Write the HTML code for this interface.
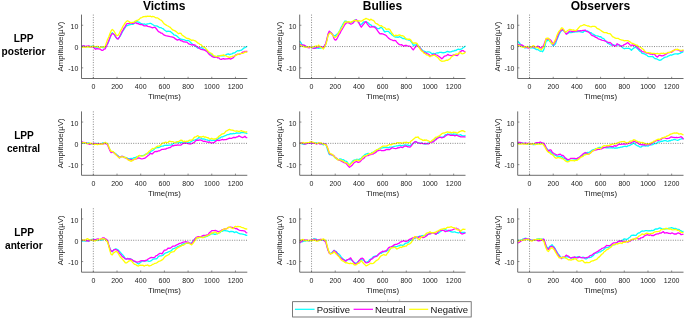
<!DOCTYPE html>
<html><head><meta charset="utf-8"><title>LPP ERP</title>
<style>
html,body{margin:0;padding:0;background:#fff;}
body{width:685px;height:319px;overflow:hidden;font-family:"Liberation Sans",sans-serif;}
svg{display:block;will-change:transform;}
text{font-family:"Liberation Sans",sans-serif;fill:#1a1a1a;}
.tk{font-size:7px;fill:#222;}
.lb{font-size:7.85px;fill:#222;}
.tt{font-size:12px;font-weight:bold;fill:#000;}
.rl{font-size:10.15px;font-weight:bold;fill:#000;}
.lg{font-size:9.5px;fill:#111;}
</style></head><body>
<svg width="685" height="319" viewBox="0 0 685 319">
<rect width="685" height="319" fill="#fff"/>
<polyline points="81.50,46.06 82.68,46.35 83.87,45.78 85.05,46.65 86.24,46.54 87.42,46.77 88.61,46.95 89.79,46.18 90.97,46.59 92.16,46.21 93.34,45.94 94.53,47.02 95.71,47.69 96.90,47.89 98.08,47.97 99.26,48.03 100.45,47.40 101.63,47.01 102.82,47.66 104.00,47.69 105.19,47.65 106.37,45.27 107.55,44.31 108.74,41.25 109.92,38.21 111.11,34.35 112.29,32.70 113.48,33.93 114.66,34.92 115.84,37.19 117.03,38.72 118.21,38.52 119.40,37.12 120.58,35.50 121.77,33.31 122.95,31.01 124.13,29.10 125.32,27.43 126.50,25.64 127.69,25.53 128.87,24.82 130.06,24.75 131.24,24.36 132.42,24.42 133.61,24.09 134.79,22.42 135.98,21.98 137.16,21.75 138.35,22.07 139.53,22.47 140.71,23.56 141.90,23.73 143.08,24.36 144.27,23.90 145.45,24.51 146.64,24.10 147.82,23.79 149.00,23.70 150.19,23.26 151.37,23.70 152.56,24.56 153.74,25.26 154.93,25.98 156.11,25.80 157.29,26.15 158.48,26.85 159.66,27.72 160.85,27.57 162.03,28.22 163.22,28.81 164.40,29.93 165.58,30.81 166.77,31.58 167.95,31.21 169.14,31.28 170.32,31.49 171.51,32.44 172.69,33.41 173.87,34.86 175.06,35.17 176.24,35.61 177.43,36.49 178.61,37.68 179.80,38.46 180.98,39.25 182.16,39.39 183.35,39.58 184.53,39.95 185.72,40.54 186.90,40.51 188.09,40.31 189.27,41.02 190.45,42.26 191.64,43.43 192.82,44.54 194.01,45.45 195.19,46.23 196.38,46.79 197.56,47.99 198.74,47.99 199.93,47.84 201.11,47.52 202.30,48.07 203.48,49.02 204.67,49.59 205.85,50.26 207.03,51.25 208.22,52.08 209.40,52.76 210.59,54.09 211.77,54.93 212.96,55.56 214.14,56.50 215.32,57.21 216.51,56.87 217.69,55.89 218.88,56.01 220.06,55.49 221.25,55.95 222.43,55.66 223.61,55.82 224.80,55.70 225.98,54.73 227.17,54.16 228.35,53.88 229.54,54.59 230.72,54.15 231.90,53.96 233.09,52.90 234.27,53.05 235.46,52.33 236.64,51.23 237.83,50.69 239.01,50.82 240.19,50.32 241.38,50.31 242.56,49.26 243.75,48.07 244.93,47.64 246.12,46.79 247.30,46.43" fill="none" stroke="#00ffff" stroke-width="1.3" stroke-linejoin="round" stroke-linecap="butt"/>
<polyline points="81.50,46.26 82.68,45.98 83.87,45.83 85.05,46.29 86.24,46.24 87.42,46.11 88.61,45.81 89.79,46.62 90.97,47.03 92.16,46.65 93.34,46.83 94.53,48.37 95.71,49.30 96.90,48.52 98.08,48.81 99.26,48.87 100.45,49.39 101.63,50.27 102.82,50.40 104.00,49.21 105.19,48.98 106.37,46.35 107.55,43.58 108.74,40.87 109.92,37.50 111.11,35.12 112.29,33.51 113.48,33.92 114.66,35.14 115.84,37.09 117.03,38.62 118.21,39.03 119.40,36.99 120.58,34.70 121.77,31.97 122.95,30.10 124.13,27.88 125.32,26.38 126.50,23.96 127.69,23.70 128.87,23.48 130.06,23.08 131.24,23.06 132.42,23.51 133.61,23.17 134.79,22.80 135.98,22.85 137.16,23.58 138.35,23.60 139.53,24.43 140.71,24.69 141.90,24.30 143.08,25.30 144.27,25.84 145.45,25.79 146.64,25.55 147.82,26.46 149.00,26.61 150.19,26.79 151.37,27.49 152.56,27.89 153.74,27.42 154.93,27.33 156.11,28.50 157.29,30.01 158.48,31.65 159.66,32.02 160.85,33.04 162.03,33.22 163.22,34.35 164.40,35.08 165.58,35.69 166.77,35.83 167.95,36.09 169.14,36.33 170.32,36.59 171.51,36.79 172.69,37.18 173.87,37.57 175.06,38.65 176.24,39.38 177.43,40.11 178.61,39.69 179.80,39.72 180.98,40.81 182.16,40.88 183.35,41.76 184.53,41.78 185.72,42.22 186.90,42.13 188.09,43.22 189.27,44.11 190.45,44.44 191.64,45.02 192.82,44.69 194.01,44.77 195.19,45.19 196.38,46.31 197.56,46.78 198.74,47.90 199.93,48.76 201.11,49.41 202.30,49.64 203.48,49.76 204.67,50.16 205.85,50.84 207.03,51.56 208.22,53.20 209.40,54.59 210.59,55.22 211.77,56.36 212.96,56.95 214.14,57.46 215.32,57.04 216.51,57.06 217.69,57.90 218.88,57.83 220.06,59.12 221.25,59.31 222.43,58.79 223.61,58.63 224.80,59.14 225.98,58.86 227.17,58.80 228.35,58.51 229.54,58.58 230.72,59.10 231.90,58.33 233.09,57.82 234.27,56.63 235.46,55.16 236.64,54.52 237.83,54.09 239.01,54.29 240.19,53.97 241.38,53.32 242.56,52.22 243.75,51.85 244.93,51.37 246.12,51.66 247.30,51.23" fill="none" stroke="#ff00ff" stroke-width="1.3" stroke-linejoin="round" stroke-linecap="butt"/>
<polyline points="81.50,47.63 82.68,47.20 83.87,46.80 85.05,47.44 86.24,47.11 87.42,46.54 88.61,46.88 89.79,47.35 90.97,46.40 92.16,46.59 93.34,46.18 94.53,46.31 95.71,46.79 96.90,46.44 98.08,46.43 99.26,47.55 100.45,47.85 101.63,46.85 102.82,46.86 104.00,47.26 105.19,46.26 106.37,42.85 107.55,39.44 108.74,36.96 109.92,33.67 111.11,30.90 112.29,29.55 113.48,30.48 114.66,32.25 115.84,34.35 117.03,35.72 118.21,35.17 119.40,33.24 120.58,30.57 121.77,28.77 122.95,26.29 124.13,24.67 125.32,22.65 126.50,21.42 127.69,20.70 128.87,21.46 130.06,22.50 131.24,22.52 132.42,22.28 133.61,22.42 134.79,21.35 135.98,20.75 137.16,20.50 138.35,19.92 139.53,18.90 140.71,17.77 141.90,17.57 143.08,16.73 144.27,16.67 145.45,16.30 146.64,16.50 147.82,16.19 149.00,16.38 150.19,16.09 151.37,16.77 152.56,16.50 153.74,16.57 154.93,17.30 156.11,17.78 157.29,17.79 158.48,18.45 159.66,19.50 160.85,20.04 162.03,20.92 163.22,22.58 164.40,23.99 165.58,24.63 166.77,25.47 167.95,25.99 169.14,26.73 170.32,27.42 171.51,28.81 172.69,29.94 173.87,30.41 175.06,30.92 176.24,31.63 177.43,32.72 178.61,33.73 179.80,33.15 180.98,33.44 182.16,35.23 183.35,35.86 184.53,36.72 185.72,37.62 186.90,38.44 188.09,38.36 189.27,38.89 190.45,39.58 191.64,40.58 192.82,39.99 194.01,40.42 195.19,40.79 196.38,41.62 197.56,42.82 198.74,43.36 199.93,44.40 201.11,44.68 202.30,46.13 203.48,47.22 204.67,47.24 205.85,48.66 207.03,49.95 208.22,51.31 209.40,52.48 210.59,53.01 211.77,53.52 212.96,54.97 214.14,55.85 215.32,56.14 216.51,56.70 217.69,56.23 218.88,56.17 220.06,55.94 221.25,55.35 222.43,55.45 223.61,54.88 224.80,55.62 225.98,55.67 227.17,56.54 228.35,56.83 229.54,57.56 230.72,56.92 231.90,56.55 233.09,56.06 234.27,55.90 235.46,55.54 236.64,54.83 237.83,54.40 239.01,54.07 240.19,53.73 241.38,53.39 242.56,53.33 243.75,53.12 244.93,51.96 246.12,52.19 247.30,52.01" fill="none" stroke="#ffff00" stroke-width="1.3" stroke-linejoin="round" stroke-linecap="butt"/>
<line x1="93.34" y1="14.60" x2="93.34" y2="78.50" stroke="#555" stroke-width="0.7" stroke-dasharray="1 1.5"/>
<line x1="81.50" y1="46.55" x2="247.30" y2="46.55" stroke="#555" stroke-width="0.7" stroke-dasharray="1 1.35"/>
<path d="M81.50 14.60V78.50H247.30" fill="none" stroke="#5c5c5c" stroke-width="0.9"/>
<line x1="93.34" y1="78.50" x2="93.34" y2="76.80" stroke="#5c5c5c" stroke-width="0.7"/>
<text x="93.34" y="89.00" class="tk" text-anchor="middle">0</text>
<line x1="117.03" y1="78.50" x2="117.03" y2="76.80" stroke="#5c5c5c" stroke-width="0.7"/>
<text x="117.03" y="89.00" class="tk" text-anchor="middle">200</text>
<line x1="140.71" y1="78.50" x2="140.71" y2="76.80" stroke="#5c5c5c" stroke-width="0.7"/>
<text x="140.71" y="89.00" class="tk" text-anchor="middle">400</text>
<line x1="164.40" y1="78.50" x2="164.40" y2="76.80" stroke="#5c5c5c" stroke-width="0.7"/>
<text x="164.40" y="89.00" class="tk" text-anchor="middle">600</text>
<line x1="188.09" y1="78.50" x2="188.09" y2="76.80" stroke="#5c5c5c" stroke-width="0.7"/>
<text x="188.09" y="89.00" class="tk" text-anchor="middle">800</text>
<line x1="211.77" y1="78.50" x2="211.77" y2="76.80" stroke="#5c5c5c" stroke-width="0.7"/>
<text x="211.77" y="89.00" class="tk" text-anchor="middle">1000</text>
<line x1="235.46" y1="78.50" x2="235.46" y2="76.80" stroke="#5c5c5c" stroke-width="0.7"/>
<text x="235.46" y="89.00" class="tk" text-anchor="middle">1200</text>
<line x1="81.50" y1="25.25" x2="83.20" y2="25.25" stroke="#5c5c5c" stroke-width="0.7"/>
<text x="78.30" y="28.85" class="tk" text-anchor="end">10</text>
<line x1="81.50" y1="46.55" x2="83.20" y2="46.55" stroke="#5c5c5c" stroke-width="0.7"/>
<text x="78.30" y="50.15" class="tk" text-anchor="end">0</text>
<line x1="81.50" y1="67.85" x2="83.20" y2="67.85" stroke="#5c5c5c" stroke-width="0.7"/>
<text x="78.30" y="71.45" class="tk" text-anchor="end">-10</text>
<text x="164.40" y="99.40" class="lb" text-anchor="middle">Time(ms)</text>
<text transform="translate(63.30 46.55) rotate(-90)" class="lb" text-anchor="middle">Amplitude(µV)</text>
<text x="164.20" y="10.35" class="tt" text-anchor="middle">Victims</text>
<polyline points="299.70,41.12 300.88,42.61 302.07,44.73 303.25,45.09 304.44,45.73 305.62,47.36 306.81,46.70 307.99,46.96 309.17,46.82 310.36,47.28 311.54,47.66 312.73,47.83 313.91,47.91 315.10,48.31 316.28,47.96 317.46,48.16 318.65,48.37 319.83,48.00 321.02,48.14 322.20,47.50 323.39,47.70 324.57,45.94 325.75,44.17 326.94,39.74 328.12,34.85 329.31,32.09 330.49,32.18 331.68,33.53 332.86,34.72 334.04,35.65 335.23,36.08 336.41,34.49 337.60,33.78 338.78,32.07 339.97,29.96 341.15,27.27 342.33,25.30 343.52,23.09 344.70,21.23 345.89,21.10 347.07,21.66 348.26,22.14 349.44,22.62 350.62,22.58 351.81,22.28 352.99,21.62 354.18,20.51 355.36,19.90 356.55,20.28 357.73,21.08 358.91,22.37 360.10,24.54 361.28,24.40 362.47,23.24 363.65,21.99 364.84,21.93 366.02,21.80 367.20,22.31 368.39,23.06 369.57,24.27 370.76,24.84 371.94,25.98 373.13,26.46 374.31,26.28 375.49,27.12 376.68,28.06 377.86,28.55 379.05,28.68 380.23,27.70 381.42,27.36 382.60,28.65 383.78,30.70 384.97,32.03 386.15,31.32 387.34,31.28 388.52,31.38 389.71,32.90 390.89,33.66 392.07,35.04 393.26,35.78 394.44,36.60 395.63,37.07 396.81,36.88 398.00,37.35 399.18,36.70 400.36,37.21 401.55,37.72 402.73,38.60 403.92,38.26 405.10,38.83 406.29,39.54 407.47,39.37 408.65,40.22 409.84,40.18 411.02,41.67 412.21,43.17 413.39,45.56 414.58,44.90 415.76,45.13 416.94,44.26 418.13,45.50 419.31,47.01 420.50,48.23 421.68,49.50 422.87,50.80 424.05,51.15 425.23,51.52 426.42,52.46 427.60,51.97 428.79,51.96 429.97,52.12 431.16,53.19 432.34,53.74 433.52,53.41 434.71,53.96 435.89,53.27 437.08,52.77 438.26,53.00 439.45,52.34 440.63,52.46 441.81,52.48 443.00,52.76 444.18,52.65 445.37,52.46 446.55,51.73 447.74,51.46 448.92,51.99 450.10,51.79 451.29,51.78 452.47,51.10 453.66,51.22 454.84,50.28 456.03,50.51 457.21,49.53 458.39,49.12 459.58,49.62 460.76,49.22 461.95,48.78 463.13,47.64 464.32,46.96 465.50,45.88" fill="none" stroke="#00ffff" stroke-width="1.3" stroke-linejoin="round" stroke-linecap="butt"/>
<polyline points="299.70,44.11 300.88,45.17 302.07,44.93 303.25,45.07 304.44,45.24 305.62,46.04 306.81,46.96 307.99,47.64 309.17,47.84 310.36,47.22 311.54,47.34 312.73,48.00 313.91,48.36 315.10,48.01 316.28,47.72 317.46,46.98 318.65,47.17 319.83,46.44 321.02,46.70 322.20,46.85 323.39,47.69 324.57,45.43 325.75,43.51 326.94,38.77 328.12,33.71 329.31,31.12 330.49,32.35 331.68,33.31 332.86,35.38 334.04,38.53 335.23,40.20 336.41,39.58 337.60,37.53 338.78,34.92 339.97,33.37 341.15,30.73 342.33,29.05 343.52,26.97 344.70,24.71 345.89,23.56 347.07,22.45 348.26,22.87 349.44,23.20 350.62,24.09 351.81,23.78 352.99,23.14 354.18,21.61 355.36,20.29 356.55,19.78 357.73,21.60 358.91,23.03 360.10,25.44 361.28,27.20 362.47,25.52 363.65,24.12 364.84,22.60 366.02,21.60 367.20,23.84 368.39,25.40 369.57,26.77 370.76,27.08 371.94,26.63 373.13,26.81 374.31,27.01 375.49,27.85 376.68,29.33 377.86,31.13 379.05,32.81 380.23,33.95 381.42,33.56 382.60,33.96 383.78,34.45 384.97,34.87 386.15,35.51 387.34,36.88 388.52,38.12 389.71,38.95 390.89,39.63 392.07,40.00 393.26,40.59 394.44,40.45 395.63,40.56 396.81,42.11 398.00,43.45 399.18,44.37 400.36,44.97 401.55,44.62 402.73,45.54 403.92,46.07 405.10,45.40 406.29,45.48 407.47,45.88 408.65,46.05 409.84,46.21 411.02,47.02 412.21,48.85 413.39,49.90 414.58,48.01 415.76,46.79 416.94,45.16 418.13,46.22 419.31,47.15 420.50,48.59 421.68,50.49 422.87,51.36 424.05,52.22 425.23,52.92 426.42,53.41 427.60,53.97 428.79,54.43 429.97,55.57 431.16,55.53 432.34,54.68 433.52,55.07 434.71,54.03 435.89,54.74 437.08,55.18 438.26,55.99 439.45,56.84 440.63,57.81 441.81,58.78 443.00,57.74 444.18,56.35 445.37,55.90 446.55,55.63 447.74,54.37 448.92,55.12 450.10,55.36 451.29,55.61 452.47,55.44 453.66,54.84 454.84,54.99 456.03,55.45 457.21,55.54 458.39,54.45 459.58,52.17 460.76,51.35 461.95,50.65 463.13,50.56 464.32,51.63 465.50,51.95" fill="none" stroke="#ff00ff" stroke-width="1.3" stroke-linejoin="round" stroke-linecap="butt"/>
<polyline points="299.70,44.85 300.88,45.70 302.07,46.12 303.25,46.39 304.44,47.15 305.62,47.19 306.81,47.09 307.99,46.99 309.17,46.65 310.36,47.17 311.54,47.73 312.73,47.00 313.91,46.63 315.10,46.28 316.28,45.94 317.46,46.54 318.65,45.06 319.83,46.57 321.02,47.21 322.20,48.04 323.39,49.03 324.57,47.13 325.75,44.77 326.94,40.69 328.12,35.33 329.31,33.53 330.49,32.94 331.68,33.93 332.86,35.38 334.04,36.94 335.23,37.46 336.41,36.39 337.60,34.69 338.78,32.70 339.97,30.69 341.15,28.78 342.33,26.80 343.52,24.57 344.70,22.13 345.89,21.89 347.07,22.10 348.26,21.69 349.44,21.93 350.62,22.36 351.81,21.61 352.99,21.02 354.18,20.19 355.36,20.76 356.55,20.71 357.73,21.23 358.91,20.66 360.10,21.22 361.28,21.16 362.47,20.72 363.65,19.58 364.84,19.14 366.02,18.43 367.20,18.88 368.39,19.30 369.57,20.34 370.76,19.20 371.94,19.80 373.13,20.36 374.31,21.29 375.49,23.25 376.68,23.67 377.86,24.42 379.05,25.19 380.23,25.94 381.42,25.66 382.60,26.75 383.78,27.25 384.97,27.77 386.15,29.32 387.34,29.08 388.52,28.98 389.71,29.30 390.89,31.38 392.07,33.20 393.26,34.58 394.44,36.18 395.63,35.24 396.81,35.28 398.00,35.54 399.18,34.82 400.36,35.23 401.55,35.81 402.73,35.76 403.92,36.29 405.10,37.80 406.29,38.99 407.47,39.34 408.65,39.18 409.84,39.26 411.02,40.34 412.21,42.13 413.39,43.32 414.58,42.93 415.76,43.00 416.94,43.28 418.13,45.73 419.31,47.91 420.50,49.59 421.68,51.00 422.87,51.61 424.05,53.27 425.23,53.76 426.42,54.82 427.60,54.91 428.79,55.85 429.97,56.84 431.16,55.85 432.34,55.76 433.52,55.23 434.71,55.26 435.89,56.29 437.08,56.96 438.26,57.93 439.45,59.66 440.63,60.59 441.81,61.28 443.00,61.17 444.18,61.15 445.37,60.70 446.55,60.16 447.74,60.25 448.92,59.42 450.10,58.79 451.29,56.99 452.47,56.26 453.66,55.38 454.84,54.75 456.03,53.99 457.21,54.27 458.39,53.68 459.58,52.50 460.76,52.77 461.95,53.81 463.13,53.58 464.32,53.17 465.50,52.01" fill="none" stroke="#ffff00" stroke-width="1.3" stroke-linejoin="round" stroke-linecap="butt"/>
<line x1="311.54" y1="14.60" x2="311.54" y2="78.50" stroke="#555" stroke-width="0.7" stroke-dasharray="1 1.5"/>
<line x1="299.70" y1="46.55" x2="465.50" y2="46.55" stroke="#555" stroke-width="0.7" stroke-dasharray="1 1.35"/>
<path d="M299.70 14.60V78.50H465.50" fill="none" stroke="#5c5c5c" stroke-width="0.9"/>
<line x1="311.54" y1="78.50" x2="311.54" y2="76.80" stroke="#5c5c5c" stroke-width="0.7"/>
<text x="311.54" y="89.00" class="tk" text-anchor="middle">0</text>
<line x1="335.23" y1="78.50" x2="335.23" y2="76.80" stroke="#5c5c5c" stroke-width="0.7"/>
<text x="335.23" y="89.00" class="tk" text-anchor="middle">200</text>
<line x1="358.91" y1="78.50" x2="358.91" y2="76.80" stroke="#5c5c5c" stroke-width="0.7"/>
<text x="358.91" y="89.00" class="tk" text-anchor="middle">400</text>
<line x1="382.60" y1="78.50" x2="382.60" y2="76.80" stroke="#5c5c5c" stroke-width="0.7"/>
<text x="382.60" y="89.00" class="tk" text-anchor="middle">600</text>
<line x1="406.29" y1="78.50" x2="406.29" y2="76.80" stroke="#5c5c5c" stroke-width="0.7"/>
<text x="406.29" y="89.00" class="tk" text-anchor="middle">800</text>
<line x1="429.97" y1="78.50" x2="429.97" y2="76.80" stroke="#5c5c5c" stroke-width="0.7"/>
<text x="429.97" y="89.00" class="tk" text-anchor="middle">1000</text>
<line x1="453.66" y1="78.50" x2="453.66" y2="76.80" stroke="#5c5c5c" stroke-width="0.7"/>
<text x="453.66" y="89.00" class="tk" text-anchor="middle">1200</text>
<line x1="299.70" y1="25.25" x2="301.40" y2="25.25" stroke="#5c5c5c" stroke-width="0.7"/>
<text x="296.50" y="28.85" class="tk" text-anchor="end">10</text>
<line x1="299.70" y1="46.55" x2="301.40" y2="46.55" stroke="#5c5c5c" stroke-width="0.7"/>
<text x="296.50" y="50.15" class="tk" text-anchor="end">0</text>
<line x1="299.70" y1="67.85" x2="301.40" y2="67.85" stroke="#5c5c5c" stroke-width="0.7"/>
<text x="296.50" y="71.45" class="tk" text-anchor="end">-10</text>
<text x="382.60" y="99.40" class="lb" text-anchor="middle">Time(ms)</text>
<text transform="translate(281.50 46.55) rotate(-90)" class="lb" text-anchor="middle">Amplitude(µV)</text>
<text x="382.40" y="10.35" class="tt" text-anchor="middle">Bullies</text>
<polyline points="517.70,41.19 518.88,42.50 520.07,43.77 521.25,45.35 522.44,46.05 523.62,47.04 524.81,47.98 525.99,47.75 527.17,47.61 528.36,47.23 529.54,46.78 530.73,47.97 531.91,47.58 533.10,48.00 534.28,48.36 535.46,48.91 536.65,49.66 537.83,49.40 539.02,50.53 540.20,51.25 541.39,50.96 542.57,51.70 543.75,49.84 544.94,46.33 546.12,40.89 547.31,40.75 548.49,39.59 549.68,41.39 550.86,42.54 552.04,44.12 553.23,45.94 554.41,45.05 555.60,43.59 556.78,39.88 557.97,37.25 559.15,34.28 560.33,32.16 561.52,30.71 562.70,30.19 563.89,30.97 565.07,31.57 566.26,33.67 567.44,33.52 568.62,32.94 569.81,32.46 570.99,32.55 572.18,32.33 573.36,32.03 574.55,32.14 575.73,31.63 576.91,31.84 578.10,31.59 579.28,31.41 580.47,31.79 581.65,32.05 582.84,32.43 584.02,31.25 585.20,30.97 586.39,31.09 587.57,31.01 588.76,31.72 589.94,32.70 591.13,32.59 592.31,33.88 593.49,34.32 594.68,35.15 595.86,35.67 597.05,35.78 598.23,36.10 599.42,36.74 600.60,36.53 601.78,37.90 602.97,38.27 604.15,39.06 605.34,40.84 606.52,41.41 607.71,43.33 608.89,43.76 610.07,44.56 611.26,45.24 612.44,44.38 613.63,44.80 614.81,45.35 616.00,45.31 617.18,45.18 618.36,44.64 619.55,45.02 620.73,45.70 621.92,47.11 623.10,48.06 624.29,48.74 625.47,48.32 626.65,48.29 627.84,48.41 629.02,48.33 630.21,49.06 631.39,50.26 632.58,48.96 633.76,48.16 634.94,47.11 636.13,47.75 637.31,48.44 638.50,49.71 639.68,51.12 640.87,51.71 642.05,53.44 643.23,53.56 644.42,53.88 645.60,54.74 646.79,55.12 647.97,56.29 649.16,56.58 650.34,56.72 651.52,56.61 652.71,56.49 653.89,57.77 655.08,58.65 656.26,58.74 657.45,59.25 658.63,59.97 659.81,60.39 661.00,59.96 662.18,58.96 663.37,58.23 664.55,57.40 665.74,57.03 666.92,56.92 668.10,56.03 669.29,55.59 670.47,54.97 671.66,55.24 672.84,54.52 674.03,54.09 675.21,53.97 676.39,53.94 677.58,54.00 678.76,53.75 679.95,53.34 681.13,52.61 682.32,52.30 683.50,51.42" fill="none" stroke="#00ffff" stroke-width="1.3" stroke-linejoin="round" stroke-linecap="butt"/>
<polyline points="517.70,44.49 518.88,44.59 520.07,45.18 521.25,44.89 522.44,45.17 523.62,46.05 524.81,47.08 525.99,47.37 527.17,47.41 528.36,48.07 529.54,47.59 530.73,46.58 531.91,46.74 533.10,46.56 534.28,47.13 535.46,47.59 536.65,47.10 537.83,46.05 539.02,46.92 540.20,47.67 541.39,48.11 542.57,46.99 543.75,45.19 544.94,41.65 546.12,38.85 547.31,39.19 548.49,38.96 549.68,39.43 550.86,40.24 552.04,42.24 553.23,44.83 554.41,42.80 555.60,41.22 556.78,38.69 557.97,35.27 559.15,32.65 560.33,30.88 561.52,30.09 562.70,29.56 563.89,30.60 565.07,32.46 566.26,34.21 567.44,33.35 568.62,32.01 569.81,31.06 570.99,31.14 572.18,31.80 573.36,31.40 574.55,31.10 575.73,31.42 576.91,30.75 578.10,30.80 579.28,30.84 580.47,30.55 581.65,30.89 582.84,30.44 584.02,30.29 585.20,30.04 586.39,31.32 587.57,31.71 588.76,32.27 589.94,33.15 591.13,34.73 592.31,35.69 593.49,35.90 594.68,36.61 595.86,37.36 597.05,37.77 598.23,38.82 599.42,39.23 600.60,39.54 601.78,40.11 602.97,40.46 604.15,40.53 605.34,41.15 606.52,41.80 607.71,42.09 608.89,42.92 610.07,42.43 611.26,43.41 612.44,45.03 613.63,45.36 614.81,46.23 616.00,45.61 617.18,43.71 618.36,44.45 619.55,45.35 620.73,46.33 621.92,45.84 623.10,45.61 624.29,44.60 625.47,44.23 626.65,43.24 627.84,42.69 629.02,43.84 630.21,45.13 631.39,45.31 632.58,44.91 633.76,45.58 634.94,44.99 636.13,45.96 637.31,47.57 638.50,48.06 639.68,49.63 640.87,50.14 642.05,51.55 643.23,51.93 644.42,51.72 645.60,52.61 646.79,53.19 647.97,52.87 649.16,53.72 650.34,54.01 651.52,54.04 652.71,54.37 653.89,53.98 655.08,54.89 656.26,56.37 657.45,56.98 658.63,55.79 659.81,55.18 661.00,55.75 662.18,55.91 663.37,55.68 664.55,54.82 665.74,54.37 666.92,53.48 668.10,52.77 669.29,52.60 670.47,52.22 671.66,52.33 672.84,51.25 674.03,50.17 675.21,49.51 676.39,49.66 677.58,49.80 678.76,50.25 679.95,51.00 681.13,51.10 682.32,50.85 683.50,50.25" fill="none" stroke="#ff00ff" stroke-width="1.3" stroke-linejoin="round" stroke-linecap="butt"/>
<polyline points="517.70,45.04 518.88,45.49 520.07,45.99 521.25,46.74 522.44,47.11 523.62,47.40 524.81,46.69 525.99,46.76 527.17,46.36 528.36,46.99 529.54,47.72 530.73,47.16 531.91,46.66 533.10,45.72 534.28,46.22 535.46,47.38 536.65,47.48 537.83,47.44 539.02,48.66 540.20,49.22 541.39,49.79 542.57,47.99 543.75,47.59 544.94,43.20 546.12,38.41 547.31,38.25 548.49,38.19 549.68,40.39 550.86,42.40 552.04,43.95 553.23,43.60 554.41,41.64 555.60,39.38 556.78,35.84 557.97,33.18 559.15,31.09 560.33,29.82 561.52,27.92 562.70,28.10 563.89,29.76 565.07,32.01 566.26,31.87 567.44,30.83 568.62,30.05 569.81,29.32 570.99,29.52 572.18,30.16 573.36,29.84 574.55,30.49 575.73,30.60 576.91,29.92 578.10,28.52 579.28,27.15 580.47,25.81 581.65,25.78 582.84,25.23 584.02,24.68 585.20,25.07 586.39,25.49 587.57,26.01 588.76,25.96 589.94,26.64 591.13,26.84 592.31,26.29 593.49,26.40 594.68,26.32 595.86,27.01 597.05,28.41 598.23,28.90 599.42,29.43 600.60,30.25 601.78,31.10 602.97,31.93 604.15,32.61 605.34,32.63 606.52,32.58 607.71,33.33 608.89,33.56 610.07,33.67 611.26,34.96 612.44,36.54 613.63,37.05 614.81,37.97 616.00,38.47 617.18,38.31 618.36,38.46 619.55,39.32 620.73,39.69 621.92,40.03 623.10,40.21 624.29,40.88 625.47,40.69 626.65,40.65 627.84,40.62 629.02,41.29 630.21,42.09 631.39,43.08 632.58,43.29 633.76,43.94 634.94,44.44 636.13,45.16 637.31,45.26 638.50,46.61 639.68,46.99 640.87,47.48 642.05,48.64 643.23,49.26 644.42,50.72 645.60,52.01 646.79,52.61 647.97,52.59 649.16,52.93 650.34,52.81 651.52,53.30 652.71,53.44 653.89,53.39 655.08,53.69 656.26,53.59 657.45,53.45 658.63,53.86 659.81,53.92 661.00,53.19 662.18,53.52 663.37,53.15 664.55,53.54 665.74,53.48 666.92,53.01 668.10,52.40 669.29,52.29 670.47,52.28 671.66,51.38 672.84,50.67 674.03,50.50 675.21,49.53 676.39,49.45 677.58,49.19 678.76,49.88 679.95,50.22 681.13,50.32 682.32,50.07 683.50,49.77" fill="none" stroke="#ffff00" stroke-width="1.3" stroke-linejoin="round" stroke-linecap="butt"/>
<line x1="529.54" y1="14.60" x2="529.54" y2="78.50" stroke="#555" stroke-width="0.7" stroke-dasharray="1 1.5"/>
<line x1="517.70" y1="46.55" x2="683.50" y2="46.55" stroke="#555" stroke-width="0.7" stroke-dasharray="1 1.35"/>
<path d="M517.70 14.60V78.50H683.50" fill="none" stroke="#5c5c5c" stroke-width="0.9"/>
<line x1="529.54" y1="78.50" x2="529.54" y2="76.80" stroke="#5c5c5c" stroke-width="0.7"/>
<text x="529.54" y="89.00" class="tk" text-anchor="middle">0</text>
<line x1="553.23" y1="78.50" x2="553.23" y2="76.80" stroke="#5c5c5c" stroke-width="0.7"/>
<text x="553.23" y="89.00" class="tk" text-anchor="middle">200</text>
<line x1="576.91" y1="78.50" x2="576.91" y2="76.80" stroke="#5c5c5c" stroke-width="0.7"/>
<text x="576.91" y="89.00" class="tk" text-anchor="middle">400</text>
<line x1="600.60" y1="78.50" x2="600.60" y2="76.80" stroke="#5c5c5c" stroke-width="0.7"/>
<text x="600.60" y="89.00" class="tk" text-anchor="middle">600</text>
<line x1="624.29" y1="78.50" x2="624.29" y2="76.80" stroke="#5c5c5c" stroke-width="0.7"/>
<text x="624.29" y="89.00" class="tk" text-anchor="middle">800</text>
<line x1="647.97" y1="78.50" x2="647.97" y2="76.80" stroke="#5c5c5c" stroke-width="0.7"/>
<text x="647.97" y="89.00" class="tk" text-anchor="middle">1000</text>
<line x1="671.66" y1="78.50" x2="671.66" y2="76.80" stroke="#5c5c5c" stroke-width="0.7"/>
<text x="671.66" y="89.00" class="tk" text-anchor="middle">1200</text>
<line x1="517.70" y1="25.25" x2="519.40" y2="25.25" stroke="#5c5c5c" stroke-width="0.7"/>
<text x="514.50" y="28.85" class="tk" text-anchor="end">10</text>
<line x1="517.70" y1="46.55" x2="519.40" y2="46.55" stroke="#5c5c5c" stroke-width="0.7"/>
<text x="514.50" y="50.15" class="tk" text-anchor="end">0</text>
<line x1="517.70" y1="67.85" x2="519.40" y2="67.85" stroke="#5c5c5c" stroke-width="0.7"/>
<text x="514.50" y="71.45" class="tk" text-anchor="end">-10</text>
<text x="600.60" y="99.40" class="lb" text-anchor="middle">Time(ms)</text>
<text transform="translate(499.50 46.55) rotate(-90)" class="lb" text-anchor="middle">Amplitude(µV)</text>
<text x="600.40" y="10.35" class="tt" text-anchor="middle">Observers</text>
<text x="23.6" y="41.7" class="rl" text-anchor="middle">LPP</text>
<text x="23.5" y="54.9" class="rl" text-anchor="middle">posterior</text>
<polyline points="81.50,142.75 82.68,142.46 83.87,143.15 85.05,143.03 86.24,142.93 87.42,143.33 88.61,142.92 89.79,143.57 90.97,143.91 92.16,143.88 93.34,143.71 94.53,143.76 95.71,143.27 96.90,143.93 98.08,143.23 99.26,143.60 100.45,143.90 101.63,143.55 102.82,142.92 104.00,143.31 105.19,142.53 106.37,143.55 107.55,143.88 108.74,147.14 109.92,149.82 111.11,151.54 112.29,151.71 113.48,152.22 114.66,152.99 115.84,153.80 117.03,154.90 118.21,155.95 119.40,157.45 120.58,156.63 121.77,156.46 122.95,156.67 124.13,157.08 125.32,157.57 126.50,157.54 127.69,158.52 128.87,158.62 130.06,158.62 131.24,158.37 132.42,158.77 133.61,157.78 134.79,157.58 135.98,157.43 137.16,156.62 138.35,156.28 139.53,155.56 140.71,155.54 141.90,155.53 143.08,155.48 144.27,155.28 145.45,154.24 146.64,154.07 147.82,153.55 149.00,152.67 150.19,152.40 151.37,150.91 152.56,150.54 153.74,149.78 154.93,148.42 156.11,147.98 157.29,147.43 158.48,147.58 159.66,147.17 160.85,146.30 162.03,146.03 163.22,146.20 164.40,145.28 165.58,145.32 166.77,145.13 167.95,145.37 169.14,145.16 170.32,145.09 171.51,144.96 172.69,143.96 173.87,143.28 175.06,142.74 176.24,142.17 177.43,142.79 178.61,142.94 179.80,142.27 180.98,142.58 182.16,142.02 183.35,142.26 184.53,142.82 185.72,142.21 186.90,141.82 188.09,142.34 189.27,142.43 190.45,142.15 191.64,141.08 192.82,140.64 194.01,140.18 195.19,139.81 196.38,139.30 197.56,138.85 198.74,137.56 199.93,137.94 201.11,138.08 202.30,139.03 203.48,138.95 204.67,139.10 205.85,139.53 207.03,139.82 208.22,140.41 209.40,140.29 210.59,139.89 211.77,140.57 212.96,140.35 214.14,140.21 215.32,140.73 216.51,139.36 217.69,139.27 218.88,137.99 220.06,138.07 221.25,136.94 222.43,136.80 223.61,136.36 224.80,135.78 225.98,135.41 227.17,134.71 228.35,134.56 229.54,134.25 230.72,133.57 231.90,133.84 233.09,133.52 234.27,133.63 235.46,133.42 236.64,132.90 237.83,133.14 239.01,133.03 240.19,133.17 241.38,132.42 242.56,132.55 243.75,132.58 244.93,132.94 246.12,133.00 247.30,133.84" fill="none" stroke="#00ffff" stroke-width="1.3" stroke-linejoin="round" stroke-linecap="butt"/>
<polyline points="81.50,141.66 82.68,142.16 83.87,142.51 85.05,142.55 86.24,142.85 87.42,143.66 88.61,143.93 89.79,144.32 90.97,143.64 92.16,143.64 93.34,143.44 94.53,143.43 95.71,144.12 96.90,143.89 98.08,143.73 99.26,143.58 100.45,144.15 101.63,143.71 102.82,144.15 104.00,143.36 105.19,143.48 106.37,143.82 107.55,144.71 108.74,147.83 109.92,150.70 111.11,152.54 112.29,151.97 113.48,152.30 114.66,153.60 115.84,154.53 117.03,155.51 118.21,156.22 119.40,157.89 120.58,157.07 121.77,156.34 122.95,156.39 124.13,157.54 125.32,157.67 126.50,158.33 127.69,158.78 128.87,160.01 130.06,159.84 131.24,159.50 132.42,160.51 133.61,159.50 134.79,158.99 135.98,158.94 137.16,158.53 138.35,157.81 139.53,158.17 140.71,158.58 141.90,158.79 143.08,158.70 144.27,158.26 145.45,157.87 146.64,156.86 147.82,155.76 149.00,154.94 150.19,153.48 151.37,153.75 152.56,153.76 153.74,152.44 154.93,151.56 156.11,151.51 157.29,151.48 158.48,150.95 159.66,150.77 160.85,150.06 162.03,149.36 163.22,149.36 164.40,149.14 165.58,149.08 166.77,148.37 167.95,148.15 169.14,147.67 170.32,147.54 171.51,146.58 172.69,145.53 173.87,145.75 175.06,145.08 176.24,145.32 177.43,144.80 178.61,145.14 179.80,145.06 180.98,145.13 182.16,143.95 183.35,143.41 184.53,143.35 185.72,142.99 186.90,143.46 188.09,143.53 189.27,143.77 190.45,143.99 191.64,143.71 192.82,143.17 194.01,142.65 195.19,141.31 196.38,140.33 197.56,140.20 198.74,140.24 199.93,139.90 201.11,140.15 202.30,140.76 203.48,141.49 204.67,141.17 205.85,141.68 207.03,141.97 208.22,142.34 209.40,141.89 210.59,142.67 211.77,143.11 212.96,142.73 214.14,142.56 215.32,141.43 216.51,140.63 217.69,140.11 218.88,140.67 220.06,140.13 221.25,139.82 222.43,139.41 223.61,139.84 224.80,139.68 225.98,139.57 227.17,139.10 228.35,138.69 229.54,138.12 230.72,138.33 231.90,138.32 233.09,137.50 234.27,137.43 235.46,137.63 236.64,136.96 237.83,136.85 239.01,135.83 240.19,136.52 241.38,137.21 242.56,137.59 243.75,137.22 244.93,136.28 246.12,137.60 247.30,137.67" fill="none" stroke="#ff00ff" stroke-width="1.3" stroke-linejoin="round" stroke-linecap="butt"/>
<polyline points="81.50,143.18 82.68,142.68 83.87,142.65 85.05,142.56 86.24,143.57 87.42,143.62 88.61,143.50 89.79,143.23 90.97,143.38 92.16,143.92 93.34,144.22 94.53,144.69 95.71,144.14 96.90,144.49 98.08,144.51 99.26,144.05 100.45,143.92 101.63,144.00 102.82,144.10 104.00,143.00 105.19,142.39 106.37,143.22 107.55,143.71 108.74,146.59 109.92,149.38 111.11,151.38 112.29,151.46 113.48,151.82 114.66,153.51 115.84,154.59 117.03,155.88 118.21,157.07 119.40,157.90 120.58,156.97 121.77,156.93 122.95,156.88 124.13,157.46 125.32,157.31 126.50,158.35 127.69,159.70 128.87,160.00 130.06,160.91 131.24,161.30 132.42,160.29 133.61,159.98 134.79,158.95 135.98,158.76 137.16,157.27 138.35,155.86 139.53,155.36 140.71,155.91 141.90,156.04 143.08,155.91 144.27,155.56 145.45,154.77 146.64,153.66 147.82,152.91 149.00,151.37 150.19,150.51 151.37,149.57 152.56,148.50 153.74,148.70 154.93,147.95 156.11,146.98 157.29,146.24 158.48,146.14 159.66,145.78 160.85,144.86 162.03,143.44 163.22,142.87 164.40,142.90 165.58,142.12 166.77,142.60 167.95,142.44 169.14,141.25 170.32,141.45 171.51,141.68 172.69,141.69 173.87,142.11 175.06,142.40 176.24,142.17 177.43,141.65 178.61,141.63 179.80,140.83 180.98,140.08 182.16,140.31 183.35,141.78 184.53,141.04 185.72,141.54 186.90,141.21 188.09,141.30 189.27,140.25 190.45,140.09 191.64,140.08 192.82,139.33 194.01,137.60 195.19,136.84 196.38,136.60 197.56,135.70 198.74,136.27 199.93,136.65 201.11,137.04 202.30,136.63 203.48,136.34 204.67,137.24 205.85,136.92 207.03,137.76 208.22,137.73 209.40,138.82 210.59,138.79 211.77,138.27 212.96,139.21 214.14,138.93 215.32,139.02 216.51,138.39 217.69,137.76 218.88,136.27 220.06,135.62 221.25,134.46 222.43,133.89 223.61,133.64 224.80,132.63 225.98,131.13 227.17,130.65 228.35,129.97 229.54,129.46 230.72,130.01 231.90,130.13 233.09,130.24 234.27,130.86 235.46,131.14 236.64,130.92 237.83,131.22 239.01,131.64 240.19,131.02 241.38,130.53 242.56,131.32 243.75,131.38 244.93,132.07 246.12,132.01 247.30,131.93" fill="none" stroke="#ffff00" stroke-width="1.3" stroke-linejoin="round" stroke-linecap="butt"/>
<line x1="93.34" y1="111.40" x2="93.34" y2="175.30" stroke="#555" stroke-width="0.7" stroke-dasharray="1 1.5"/>
<line x1="81.50" y1="143.35" x2="247.30" y2="143.35" stroke="#555" stroke-width="0.7" stroke-dasharray="1 1.35"/>
<path d="M81.50 111.40V175.30H247.30" fill="none" stroke="#5c5c5c" stroke-width="0.9"/>
<line x1="93.34" y1="175.30" x2="93.34" y2="173.60" stroke="#5c5c5c" stroke-width="0.7"/>
<text x="93.34" y="185.80" class="tk" text-anchor="middle">0</text>
<line x1="117.03" y1="175.30" x2="117.03" y2="173.60" stroke="#5c5c5c" stroke-width="0.7"/>
<text x="117.03" y="185.80" class="tk" text-anchor="middle">200</text>
<line x1="140.71" y1="175.30" x2="140.71" y2="173.60" stroke="#5c5c5c" stroke-width="0.7"/>
<text x="140.71" y="185.80" class="tk" text-anchor="middle">400</text>
<line x1="164.40" y1="175.30" x2="164.40" y2="173.60" stroke="#5c5c5c" stroke-width="0.7"/>
<text x="164.40" y="185.80" class="tk" text-anchor="middle">600</text>
<line x1="188.09" y1="175.30" x2="188.09" y2="173.60" stroke="#5c5c5c" stroke-width="0.7"/>
<text x="188.09" y="185.80" class="tk" text-anchor="middle">800</text>
<line x1="211.77" y1="175.30" x2="211.77" y2="173.60" stroke="#5c5c5c" stroke-width="0.7"/>
<text x="211.77" y="185.80" class="tk" text-anchor="middle">1000</text>
<line x1="235.46" y1="175.30" x2="235.46" y2="173.60" stroke="#5c5c5c" stroke-width="0.7"/>
<text x="235.46" y="185.80" class="tk" text-anchor="middle">1200</text>
<line x1="81.50" y1="122.05" x2="83.20" y2="122.05" stroke="#5c5c5c" stroke-width="0.7"/>
<text x="78.30" y="125.65" class="tk" text-anchor="end">10</text>
<line x1="81.50" y1="143.35" x2="83.20" y2="143.35" stroke="#5c5c5c" stroke-width="0.7"/>
<text x="78.30" y="146.95" class="tk" text-anchor="end">0</text>
<line x1="81.50" y1="164.65" x2="83.20" y2="164.65" stroke="#5c5c5c" stroke-width="0.7"/>
<text x="78.30" y="168.25" class="tk" text-anchor="end">-10</text>
<text x="164.40" y="196.20" class="lb" text-anchor="middle">Time(ms)</text>
<text transform="translate(63.30 143.35) rotate(-90)" class="lb" text-anchor="middle">Amplitude(µV)</text>
<polyline points="299.70,142.98 300.88,143.22 302.07,143.87 303.25,144.04 304.44,144.38 305.62,143.25 306.81,143.69 307.99,143.12 309.17,143.00 310.36,143.31 311.54,142.83 312.73,142.95 313.91,142.91 315.10,142.83 316.28,142.94 317.46,143.35 318.65,143.44 319.83,143.35 321.02,143.41 322.20,144.19 323.39,144.87 324.57,144.05 325.75,143.96 326.94,147.54 328.12,151.61 329.31,154.61 330.49,154.57 331.68,154.49 332.86,155.41 334.04,156.54 335.23,157.67 336.41,158.80 337.60,159.33 338.78,159.53 339.97,158.90 341.15,159.10 342.33,160.09 343.52,159.71 344.70,160.82 345.89,161.12 347.07,161.73 348.26,163.56 349.44,165.03 350.62,163.36 351.81,162.09 352.99,160.80 354.18,160.00 355.36,160.27 356.55,159.33 357.73,159.29 358.91,159.68 360.10,158.65 361.28,158.30 362.47,156.76 363.65,155.88 364.84,154.66 366.02,154.04 367.20,153.72 368.39,153.30 369.57,153.57 370.76,153.58 371.94,152.36 373.13,152.17 374.31,151.77 375.49,150.71 376.68,150.01 377.86,149.64 379.05,148.66 380.23,148.15 381.42,147.98 382.60,147.84 383.78,147.51 384.97,147.54 386.15,147.36 387.34,147.46 388.52,147.84 389.71,147.10 390.89,147.18 392.07,147.24 393.26,146.69 394.44,146.28 395.63,146.18 396.81,145.97 398.00,145.89 399.18,145.42 400.36,145.23 401.55,145.89 402.73,145.42 403.92,145.21 405.10,144.76 406.29,145.34 407.47,144.82 408.65,145.42 409.84,145.60 411.02,144.88 412.21,143.91 413.39,143.49 414.58,142.29 415.76,141.49 416.94,142.26 418.13,143.01 419.31,143.16 420.50,143.46 421.68,142.97 422.87,143.47 424.05,143.77 425.23,144.02 426.42,143.88 427.60,143.20 428.79,142.96 429.97,141.95 431.16,141.74 432.34,141.44 433.52,141.18 434.71,140.24 435.89,139.09 437.08,138.09 438.26,137.27 439.45,136.98 440.63,137.18 441.81,137.21 443.00,136.84 444.18,136.26 445.37,134.60 446.55,134.77 447.74,133.83 448.92,134.49 450.10,134.14 451.29,133.96 452.47,134.59 453.66,133.85 454.84,134.03 456.03,134.08 457.21,134.90 458.39,135.14 459.58,134.95 460.76,134.69 461.95,135.66 463.13,136.02 464.32,135.98 465.50,135.45" fill="none" stroke="#00ffff" stroke-width="1.3" stroke-linejoin="round" stroke-linecap="butt"/>
<polyline points="299.70,143.52 300.88,142.78 302.07,142.59 303.25,143.55 304.44,143.86 305.62,144.14 306.81,143.23 307.99,143.02 309.17,143.28 310.36,143.13 311.54,142.63 312.73,143.37 313.91,143.24 315.10,143.15 316.28,144.03 317.46,143.70 318.65,143.21 319.83,144.04 321.02,143.91 322.20,143.70 323.39,143.43 324.57,144.18 325.75,143.96 326.94,146.26 328.12,149.49 329.31,153.41 330.49,154.27 331.68,154.80 332.86,155.16 334.04,155.78 335.23,157.51 336.41,158.01 337.60,159.15 338.78,160.02 339.97,160.41 341.15,161.04 342.33,161.54 343.52,162.45 344.70,162.79 345.89,163.02 347.07,164.62 348.26,166.03 349.44,167.30 350.62,166.52 351.81,165.58 352.99,164.10 354.18,162.66 355.36,162.02 356.55,161.36 357.73,162.29 358.91,162.24 360.10,161.64 361.28,160.25 362.47,158.80 363.65,158.53 364.84,157.06 366.02,156.04 367.20,155.49 368.39,155.50 369.57,154.77 370.76,154.72 371.94,153.84 373.13,154.11 374.31,153.14 375.49,152.68 376.68,151.54 377.86,150.60 379.05,150.49 380.23,149.98 381.42,150.68 382.60,150.54 383.78,150.50 384.97,150.36 386.15,149.50 387.34,149.33 388.52,149.55 389.71,149.53 390.89,148.62 392.07,147.68 393.26,148.16 394.44,148.47 395.63,148.57 396.81,148.34 398.00,147.62 399.18,147.79 400.36,146.98 401.55,147.42 402.73,147.48 403.92,146.45 405.10,145.89 406.29,146.21 407.47,146.76 408.65,146.84 409.84,147.18 411.02,146.24 412.21,144.52 413.39,142.91 414.58,141.94 415.76,141.56 416.94,142.31 418.13,142.77 419.31,143.02 420.50,143.52 421.68,143.10 422.87,143.60 424.05,143.62 425.23,143.29 426.42,143.73 427.60,143.92 428.79,143.91 429.97,142.74 431.16,141.98 432.34,142.02 433.52,141.83 434.71,140.11 435.89,139.80 437.08,138.49 438.26,137.95 439.45,137.21 440.63,137.49 441.81,137.77 443.00,137.49 444.18,137.10 445.37,136.09 446.55,135.24 447.74,134.67 448.92,134.63 450.10,135.30 451.29,135.16 452.47,135.32 453.66,135.22 454.84,135.86 456.03,135.29 457.21,135.33 458.39,136.11 459.58,136.37 460.76,136.91 461.95,136.84 463.13,136.94 464.32,136.96 465.50,137.00" fill="none" stroke="#ff00ff" stroke-width="1.3" stroke-linejoin="round" stroke-linecap="butt"/>
<polyline points="299.70,142.88 300.88,143.31 302.07,143.03 303.25,142.44 304.44,143.21 305.62,142.91 306.81,142.73 307.99,142.52 309.17,142.32 310.36,141.92 311.54,141.58 312.73,142.23 313.91,142.69 315.10,143.00 316.28,143.58 317.46,143.36 318.65,142.97 319.83,142.92 321.02,142.84 322.20,143.69 323.39,143.80 324.57,144.41 325.75,144.76 326.94,146.30 328.12,149.27 329.31,152.79 330.49,153.73 331.68,154.02 332.86,154.83 334.04,156.32 335.23,157.81 336.41,158.04 337.60,159.84 338.78,159.79 339.97,159.83 341.15,160.11 342.33,160.90 343.52,161.16 344.70,162.32 345.89,162.60 347.07,162.89 348.26,164.12 349.44,165.52 350.62,164.12 351.81,162.95 352.99,161.94 354.18,161.00 355.36,160.26 356.55,160.38 357.73,159.97 358.91,160.80 360.10,160.10 361.28,159.08 362.47,157.43 363.65,156.20 364.84,155.80 366.02,155.77 367.20,155.02 368.39,154.26 369.57,153.71 370.76,153.91 371.94,153.11 373.13,152.71 374.31,151.44 375.49,150.85 376.68,149.84 377.86,149.29 379.05,148.73 380.23,147.97 381.42,147.01 382.60,146.20 383.78,146.03 384.97,146.21 386.15,146.03 387.34,145.69 388.52,145.05 389.71,144.42 390.89,144.80 392.07,144.29 393.26,143.59 394.44,143.71 395.63,143.69 396.81,142.85 398.00,142.51 399.18,142.87 400.36,142.69 401.55,143.06 402.73,143.08 403.92,142.35 405.10,142.58 406.29,142.17 407.47,142.52 408.65,142.70 409.84,142.72 411.02,141.08 412.21,140.25 413.39,139.16 414.58,138.15 415.76,137.18 416.94,137.33 418.13,136.87 419.31,138.53 420.50,139.16 421.68,139.44 422.87,140.37 424.05,140.01 425.23,140.25 426.42,139.96 427.60,140.58 428.79,140.91 429.97,141.94 431.16,141.30 432.34,140.18 433.52,139.73 434.71,138.21 435.89,137.17 437.08,137.20 438.26,136.13 439.45,135.76 440.63,134.85 441.81,133.79 443.00,133.16 444.18,133.02 445.37,132.66 446.55,132.13 447.74,131.94 448.92,132.35 450.10,132.10 451.29,132.55 452.47,132.50 453.66,132.17 454.84,132.28 456.03,132.49 457.21,133.22 458.39,132.38 459.58,131.63 460.76,131.18 461.95,130.61 463.13,130.73 464.32,131.52 465.50,131.65" fill="none" stroke="#ffff00" stroke-width="1.3" stroke-linejoin="round" stroke-linecap="butt"/>
<line x1="311.54" y1="111.40" x2="311.54" y2="175.30" stroke="#555" stroke-width="0.7" stroke-dasharray="1 1.5"/>
<line x1="299.70" y1="143.35" x2="465.50" y2="143.35" stroke="#555" stroke-width="0.7" stroke-dasharray="1 1.35"/>
<path d="M299.70 111.40V175.30H465.50" fill="none" stroke="#5c5c5c" stroke-width="0.9"/>
<line x1="311.54" y1="175.30" x2="311.54" y2="173.60" stroke="#5c5c5c" stroke-width="0.7"/>
<text x="311.54" y="185.80" class="tk" text-anchor="middle">0</text>
<line x1="335.23" y1="175.30" x2="335.23" y2="173.60" stroke="#5c5c5c" stroke-width="0.7"/>
<text x="335.23" y="185.80" class="tk" text-anchor="middle">200</text>
<line x1="358.91" y1="175.30" x2="358.91" y2="173.60" stroke="#5c5c5c" stroke-width="0.7"/>
<text x="358.91" y="185.80" class="tk" text-anchor="middle">400</text>
<line x1="382.60" y1="175.30" x2="382.60" y2="173.60" stroke="#5c5c5c" stroke-width="0.7"/>
<text x="382.60" y="185.80" class="tk" text-anchor="middle">600</text>
<line x1="406.29" y1="175.30" x2="406.29" y2="173.60" stroke="#5c5c5c" stroke-width="0.7"/>
<text x="406.29" y="185.80" class="tk" text-anchor="middle">800</text>
<line x1="429.97" y1="175.30" x2="429.97" y2="173.60" stroke="#5c5c5c" stroke-width="0.7"/>
<text x="429.97" y="185.80" class="tk" text-anchor="middle">1000</text>
<line x1="453.66" y1="175.30" x2="453.66" y2="173.60" stroke="#5c5c5c" stroke-width="0.7"/>
<text x="453.66" y="185.80" class="tk" text-anchor="middle">1200</text>
<line x1="299.70" y1="122.05" x2="301.40" y2="122.05" stroke="#5c5c5c" stroke-width="0.7"/>
<text x="296.50" y="125.65" class="tk" text-anchor="end">10</text>
<line x1="299.70" y1="143.35" x2="301.40" y2="143.35" stroke="#5c5c5c" stroke-width="0.7"/>
<text x="296.50" y="146.95" class="tk" text-anchor="end">0</text>
<line x1="299.70" y1="164.65" x2="301.40" y2="164.65" stroke="#5c5c5c" stroke-width="0.7"/>
<text x="296.50" y="168.25" class="tk" text-anchor="end">-10</text>
<text x="382.60" y="196.20" class="lb" text-anchor="middle">Time(ms)</text>
<text transform="translate(281.50 143.35) rotate(-90)" class="lb" text-anchor="middle">Amplitude(µV)</text>
<polyline points="517.70,143.47 518.88,143.42 520.07,142.71 521.25,142.55 522.44,143.39 523.62,143.25 524.81,143.59 525.99,143.93 527.17,143.75 528.36,143.96 529.54,144.29 530.73,143.77 531.91,144.43 533.10,144.50 534.28,144.57 535.46,144.16 536.65,144.22 537.83,142.98 539.02,142.68 540.20,143.33 541.39,142.98 542.57,143.21 543.75,144.06 544.94,145.73 546.12,147.55 547.31,149.15 548.49,150.39 549.68,150.94 550.86,152.36 552.04,153.41 553.23,154.78 554.41,154.98 555.60,155.51 556.78,156.08 557.97,156.42 559.15,156.14 560.33,156.76 561.52,156.58 562.70,157.58 563.89,158.43 565.07,158.30 566.26,159.46 567.44,161.09 568.62,160.70 569.81,160.27 570.99,160.31 572.18,160.36 573.36,160.05 574.55,159.84 575.73,159.88 576.91,159.15 578.10,158.13 579.28,157.42 580.47,156.23 581.65,155.56 582.84,155.71 584.02,154.17 585.20,153.70 586.39,152.95 587.57,152.40 588.76,152.59 589.94,151.89 591.13,150.91 592.31,150.17 593.49,149.70 594.68,149.46 595.86,148.65 597.05,148.60 598.23,147.75 599.42,147.47 600.60,147.41 601.78,147.91 602.97,147.81 604.15,147.32 605.34,147.47 606.52,147.96 607.71,147.52 608.89,147.81 610.07,147.90 611.26,147.57 612.44,148.01 613.63,147.57 614.81,148.26 616.00,147.90 617.18,148.11 618.36,147.69 619.55,147.59 620.73,147.21 621.92,147.11 623.10,146.57 624.29,146.37 625.47,146.27 626.65,146.67 627.84,145.88 629.02,145.68 630.21,145.14 631.39,144.48 632.58,143.88 633.76,142.73 634.94,144.21 636.13,144.99 637.31,145.82 638.50,145.92 639.68,146.93 640.87,147.12 642.05,146.20 643.23,145.98 644.42,145.69 645.60,146.18 646.79,145.71 647.97,146.13 649.16,145.15 650.34,144.79 651.52,144.86 652.71,144.63 653.89,143.71 655.08,143.46 656.26,143.66 657.45,142.58 658.63,141.75 659.81,142.10 661.00,141.22 662.18,141.43 663.37,140.93 664.55,140.69 665.74,140.69 666.92,141.12 668.10,141.27 669.29,140.68 670.47,140.82 671.66,140.04 672.84,140.04 674.03,139.45 675.21,139.53 676.39,140.01 677.58,140.46 678.76,139.92 679.95,139.20 681.13,139.05 682.32,138.40 683.50,139.04" fill="none" stroke="#00ffff" stroke-width="1.3" stroke-linejoin="round" stroke-linecap="butt"/>
<polyline points="517.70,142.49 518.88,142.33 520.07,142.28 521.25,142.96 522.44,143.07 523.62,143.86 524.81,143.14 525.99,142.96 527.17,143.73 528.36,143.18 529.54,143.63 530.73,144.01 531.91,143.82 533.10,143.61 534.28,143.72 535.46,142.93 536.65,142.58 537.83,142.67 539.02,142.58 540.20,141.99 541.39,142.56 542.57,143.21 543.75,143.17 544.94,145.12 546.12,147.76 547.31,149.89 548.49,151.37 549.68,149.96 550.86,149.95 552.04,151.94 553.23,152.99 554.41,153.78 555.60,154.27 556.78,155.04 557.97,154.77 559.15,154.29 560.33,154.21 561.52,155.39 562.70,155.38 563.89,156.29 565.07,157.76 566.26,158.60 567.44,159.47 568.62,159.56 569.81,159.03 570.99,158.27 572.18,158.47 573.36,158.40 574.55,158.41 575.73,158.53 576.91,158.66 578.10,157.86 579.28,157.44 580.47,156.47 581.65,155.31 582.84,154.10 584.02,153.21 585.20,152.52 586.39,153.13 587.57,153.74 588.76,154.15 589.94,153.29 591.13,152.16 592.31,151.33 593.49,150.51 594.68,150.40 595.86,149.69 597.05,149.82 598.23,149.05 599.42,149.32 600.60,148.72 601.78,148.89 602.97,147.77 604.15,147.68 605.34,147.53 606.52,146.67 607.71,146.96 608.89,146.74 610.07,146.34 611.26,146.36 612.44,146.86 613.63,146.20 614.81,145.65 616.00,146.33 617.18,145.43 618.36,144.47 619.55,144.03 620.73,144.28 621.92,144.03 623.10,144.01 624.29,143.78 625.47,144.08 626.65,143.72 627.84,143.81 629.02,143.12 630.21,143.22 631.39,142.63 632.58,141.97 633.76,141.04 634.94,141.49 636.13,142.25 637.31,142.54 638.50,143.43 639.68,144.43 640.87,144.67 642.05,144.76 643.23,144.84 644.42,144.52 645.60,145.11 646.79,144.64 647.97,144.52 649.16,144.62 650.34,144.49 651.52,143.33 652.71,142.78 653.89,142.06 655.08,141.45 656.26,140.55 657.45,140.52 658.63,140.23 659.81,139.84 661.00,139.50 662.18,138.33 663.37,137.91 664.55,137.77 665.74,138.27 666.92,138.53 668.10,138.28 669.29,138.18 670.47,137.15 671.66,136.97 672.84,137.37 674.03,137.39 675.21,137.57 676.39,137.26 677.58,137.56 678.76,137.40 679.95,137.06 681.13,136.69 682.32,137.68 683.50,139.29" fill="none" stroke="#ff00ff" stroke-width="1.3" stroke-linejoin="round" stroke-linecap="butt"/>
<polyline points="517.70,143.33 518.88,144.08 520.07,144.04 521.25,144.04 522.44,143.85 523.62,143.76 524.81,144.14 525.99,144.06 527.17,144.26 528.36,143.63 529.54,143.81 530.73,143.95 531.91,144.39 533.10,143.72 534.28,143.68 535.46,144.64 536.65,144.10 537.83,144.18 539.02,143.99 540.20,144.37 541.39,143.93 542.57,143.95 543.75,145.37 544.94,147.23 546.12,149.39 547.31,151.24 548.49,152.27 549.68,152.73 550.86,154.02 552.04,154.46 553.23,155.35 554.41,156.96 555.60,158.04 556.78,158.11 557.97,157.26 559.15,157.84 560.33,157.75 561.52,158.51 562.70,158.69 563.89,159.59 565.07,160.62 566.26,161.32 567.44,161.92 568.62,161.61 569.81,160.74 570.99,160.48 572.18,160.38 573.36,160.63 574.55,160.98 575.73,160.21 576.91,160.45 578.10,159.51 579.28,158.62 580.47,157.51 581.65,156.88 582.84,156.48 584.02,155.18 585.20,154.79 586.39,154.39 587.57,154.42 588.76,154.06 589.94,153.34 591.13,152.67 592.31,150.92 593.49,150.62 594.68,149.77 595.86,148.93 597.05,148.34 598.23,148.09 599.42,148.46 600.60,148.59 601.78,147.29 602.97,146.30 604.15,145.65 605.34,145.92 606.52,145.70 607.71,145.44 608.89,145.85 610.07,144.89 611.26,144.35 612.44,144.05 613.63,144.12 614.81,143.47 616.00,143.94 617.18,143.05 618.36,142.52 619.55,142.14 620.73,141.87 621.92,141.62 623.10,141.58 624.29,141.46 625.47,142.50 626.65,142.83 627.84,142.67 629.02,141.97 630.21,141.10 631.39,141.11 632.58,140.62 633.76,139.69 634.94,140.03 636.13,140.88 637.31,141.36 638.50,142.03 639.68,141.94 640.87,142.85 642.05,142.33 643.23,142.63 644.42,143.39 645.60,143.73 646.79,143.74 647.97,143.76 649.16,143.90 650.34,143.26 651.52,142.50 652.71,142.18 653.89,141.09 655.08,140.84 656.26,140.09 657.45,139.46 658.63,139.20 659.81,139.30 661.00,138.48 662.18,137.90 663.37,137.70 664.55,137.11 665.74,137.10 666.92,136.11 668.10,135.66 669.29,135.05 670.47,134.12 671.66,133.89 672.84,133.45 674.03,133.01 675.21,133.03 676.39,132.77 677.58,133.06 678.76,134.06 679.95,133.88 681.13,133.70 682.32,134.44 683.50,135.01" fill="none" stroke="#ffff00" stroke-width="1.3" stroke-linejoin="round" stroke-linecap="butt"/>
<line x1="529.54" y1="111.40" x2="529.54" y2="175.30" stroke="#555" stroke-width="0.7" stroke-dasharray="1 1.5"/>
<line x1="517.70" y1="143.35" x2="683.50" y2="143.35" stroke="#555" stroke-width="0.7" stroke-dasharray="1 1.35"/>
<path d="M517.70 111.40V175.30H683.50" fill="none" stroke="#5c5c5c" stroke-width="0.9"/>
<line x1="529.54" y1="175.30" x2="529.54" y2="173.60" stroke="#5c5c5c" stroke-width="0.7"/>
<text x="529.54" y="185.80" class="tk" text-anchor="middle">0</text>
<line x1="553.23" y1="175.30" x2="553.23" y2="173.60" stroke="#5c5c5c" stroke-width="0.7"/>
<text x="553.23" y="185.80" class="tk" text-anchor="middle">200</text>
<line x1="576.91" y1="175.30" x2="576.91" y2="173.60" stroke="#5c5c5c" stroke-width="0.7"/>
<text x="576.91" y="185.80" class="tk" text-anchor="middle">400</text>
<line x1="600.60" y1="175.30" x2="600.60" y2="173.60" stroke="#5c5c5c" stroke-width="0.7"/>
<text x="600.60" y="185.80" class="tk" text-anchor="middle">600</text>
<line x1="624.29" y1="175.30" x2="624.29" y2="173.60" stroke="#5c5c5c" stroke-width="0.7"/>
<text x="624.29" y="185.80" class="tk" text-anchor="middle">800</text>
<line x1="647.97" y1="175.30" x2="647.97" y2="173.60" stroke="#5c5c5c" stroke-width="0.7"/>
<text x="647.97" y="185.80" class="tk" text-anchor="middle">1000</text>
<line x1="671.66" y1="175.30" x2="671.66" y2="173.60" stroke="#5c5c5c" stroke-width="0.7"/>
<text x="671.66" y="185.80" class="tk" text-anchor="middle">1200</text>
<line x1="517.70" y1="122.05" x2="519.40" y2="122.05" stroke="#5c5c5c" stroke-width="0.7"/>
<text x="514.50" y="125.65" class="tk" text-anchor="end">10</text>
<line x1="517.70" y1="143.35" x2="519.40" y2="143.35" stroke="#5c5c5c" stroke-width="0.7"/>
<text x="514.50" y="146.95" class="tk" text-anchor="end">0</text>
<line x1="517.70" y1="164.65" x2="519.40" y2="164.65" stroke="#5c5c5c" stroke-width="0.7"/>
<text x="514.50" y="168.25" class="tk" text-anchor="end">-10</text>
<text x="600.60" y="196.20" class="lb" text-anchor="middle">Time(ms)</text>
<text transform="translate(499.50 143.35) rotate(-90)" class="lb" text-anchor="middle">Amplitude(µV)</text>
<text x="24.0" y="138.7" class="rl" text-anchor="middle">LPP</text>
<text x="23.5" y="151.6" class="rl" text-anchor="middle">central</text>
<polyline points="81.50,240.89 82.68,241.18 83.87,240.70 85.05,241.09 86.24,240.96 87.42,240.81 88.61,241.07 89.79,240.84 90.97,239.89 92.16,239.40 93.34,239.42 94.53,239.40 95.71,239.66 96.90,240.38 98.08,240.51 99.26,239.70 100.45,239.97 101.63,240.03 102.82,239.56 104.00,239.35 105.19,238.58 106.37,239.86 107.55,241.40 108.74,245.33 109.92,248.74 111.11,250.81 112.29,251.79 113.48,250.03 114.66,249.26 115.84,248.82 117.03,249.28 118.21,249.99 119.40,251.31 120.58,252.59 121.77,253.93 122.95,255.13 124.13,256.75 125.32,258.66 126.50,258.88 127.69,258.35 128.87,258.88 130.06,258.65 131.24,259.16 132.42,260.44 133.61,260.95 134.79,261.56 135.98,261.89 137.16,263.17 138.35,264.01 139.53,263.34 140.71,262.09 141.90,261.45 143.08,261.00 144.27,261.09 145.45,261.12 146.64,260.72 147.82,260.89 149.00,261.46 150.19,261.11 151.37,260.64 152.56,259.47 153.74,258.98 154.93,258.90 156.11,258.81 157.29,258.22 158.48,256.48 159.66,255.86 160.85,255.92 162.03,255.52 163.22,255.04 164.40,253.62 165.58,252.98 166.77,252.72 167.95,252.06 169.14,251.49 170.32,251.04 171.51,250.53 172.69,248.80 173.87,248.71 175.06,248.01 176.24,247.84 177.43,246.74 178.61,246.34 179.80,245.71 180.98,245.39 182.16,244.33 183.35,243.82 184.53,243.50 185.72,243.28 186.90,243.17 188.09,243.23 189.27,243.23 190.45,243.15 191.64,242.99 192.82,241.33 194.01,239.84 195.19,238.42 196.38,238.24 197.56,237.76 198.74,237.58 199.93,237.38 201.11,237.14 202.30,237.04 203.48,237.12 204.67,237.13 205.85,236.63 207.03,236.37 208.22,235.72 209.40,235.21 210.59,234.31 211.77,233.77 212.96,233.54 214.14,234.24 215.32,234.27 216.51,233.90 217.69,233.52 218.88,233.02 220.06,232.53 221.25,231.09 222.43,231.24 223.61,230.64 224.80,230.48 225.98,230.84 227.17,230.97 228.35,231.27 229.54,231.87 230.72,231.36 231.90,231.48 233.09,231.58 234.27,232.59 235.46,232.02 236.64,231.92 237.83,232.81 239.01,233.45 240.19,233.86 241.38,233.92 242.56,234.07 243.75,234.46 244.93,234.65 246.12,235.42 247.30,235.37" fill="none" stroke="#00ffff" stroke-width="1.3" stroke-linejoin="round" stroke-linecap="butt"/>
<polyline points="81.50,240.68 82.68,240.47 83.87,240.31 85.05,240.06 86.24,240.97 87.42,240.74 88.61,241.14 89.79,240.15 90.97,240.07 92.16,240.50 93.34,239.75 94.53,239.74 95.71,239.63 96.90,239.14 98.08,238.90 99.26,239.60 100.45,239.29 101.63,238.76 102.82,237.79 104.00,237.82 105.19,238.68 106.37,239.41 107.55,240.50 108.74,244.93 109.92,248.55 111.11,251.27 112.29,251.24 113.48,250.19 114.66,249.63 115.84,249.46 117.03,250.17 118.21,250.97 119.40,253.27 120.58,254.25 121.77,255.89 122.95,256.89 124.13,257.85 125.32,258.93 126.50,259.22 127.69,258.60 128.87,259.01 130.06,258.92 131.24,259.45 132.42,259.91 133.61,261.05 134.79,261.17 135.98,261.83 137.16,262.15 138.35,261.88 139.53,261.59 140.71,260.93 141.90,260.73 143.08,260.55 144.27,261.10 145.45,260.37 146.64,260.26 147.82,259.20 149.00,258.54 150.19,257.92 151.37,257.43 152.56,257.67 153.74,257.56 154.93,257.22 156.11,255.66 157.29,255.36 158.48,254.30 159.66,253.44 160.85,253.37 162.03,253.95 163.22,251.95 164.40,250.22 165.58,250.10 166.77,249.64 167.95,248.10 169.14,248.23 170.32,248.17 171.51,247.25 172.69,246.21 173.87,246.14 175.06,246.09 176.24,245.08 177.43,244.67 178.61,243.89 179.80,243.49 180.98,243.11 182.16,242.57 183.35,242.09 184.53,241.92 185.72,241.72 186.90,242.05 188.09,242.08 189.27,243.15 190.45,243.61 191.64,243.31 192.82,241.82 194.01,239.88 195.19,238.57 196.38,237.28 197.56,236.76 198.74,236.54 199.93,236.64 201.11,236.72 202.30,235.81 203.48,235.46 204.67,235.29 205.85,235.30 207.03,234.87 208.22,234.51 209.40,232.72 210.59,231.90 211.77,230.65 212.96,230.63 214.14,230.55 215.32,230.39 216.51,230.82 217.69,231.51 218.88,231.62 220.06,231.15 221.25,230.49 222.43,229.64 223.61,229.42 224.80,228.86 225.98,228.95 227.17,228.27 228.35,227.71 229.54,227.23 230.72,227.18 231.90,227.28 233.09,227.77 234.27,227.70 235.46,228.71 236.64,228.61 237.83,229.34 239.01,230.02 240.19,230.33 241.38,230.58 242.56,230.57 243.75,230.80 244.93,231.13 246.12,232.55 247.30,232.84" fill="none" stroke="#ff00ff" stroke-width="1.3" stroke-linejoin="round" stroke-linecap="butt"/>
<polyline points="81.50,239.68 82.68,240.14 83.87,239.96 85.05,240.38 86.24,239.32 87.42,238.66 88.61,239.41 89.79,239.92 90.97,240.15 92.16,240.09 93.34,240.70 94.53,240.91 95.71,240.75 96.90,240.00 98.08,239.95 99.26,239.60 100.45,238.79 101.63,239.04 102.82,238.70 104.00,239.21 105.19,239.11 106.37,240.84 107.55,241.95 108.74,246.03 109.92,250.84 111.11,254.39 112.29,254.85 113.48,252.84 114.66,252.29 115.84,251.30 117.03,251.92 118.21,253.44 119.40,255.52 120.58,257.33 121.77,258.54 122.95,259.90 124.13,261.21 125.32,262.75 126.50,262.93 127.69,261.97 128.87,260.97 130.06,260.74 131.24,260.47 132.42,262.26 133.61,263.40 134.79,264.46 135.98,264.73 137.16,265.71 138.35,266.01 139.53,265.40 140.71,265.22 141.90,265.48 143.08,265.26 144.27,266.17 145.45,265.31 146.64,265.31 147.82,264.98 149.00,266.01 150.19,265.70 151.37,265.37 152.56,264.31 153.74,264.06 154.93,263.31 156.11,263.14 157.29,262.51 158.48,261.48 159.66,261.11 160.85,260.63 162.03,259.93 163.22,258.94 164.40,257.26 165.58,256.20 166.77,255.63 167.95,255.04 169.14,254.32 170.32,252.72 171.51,252.13 172.69,251.92 173.87,251.71 175.06,250.35 176.24,249.06 177.43,248.03 178.61,247.41 179.80,246.79 180.98,246.17 182.16,245.17 183.35,245.31 184.53,244.48 185.72,243.59 186.90,243.22 188.09,242.74 189.27,243.49 190.45,244.10 191.64,244.91 192.82,243.63 194.01,241.95 195.19,240.12 196.38,238.50 197.56,237.33 198.74,237.82 199.93,236.95 201.11,237.04 202.30,237.56 203.48,237.57 204.67,236.69 205.85,236.04 207.03,235.99 208.22,235.12 209.40,234.77 210.59,234.03 211.77,232.68 212.96,233.18 214.14,232.32 215.32,231.98 216.51,232.78 217.69,233.77 218.88,232.88 220.06,231.92 221.25,231.23 222.43,230.14 223.61,229.16 224.80,228.87 225.98,228.81 227.17,228.52 228.35,227.25 229.54,227.33 230.72,227.49 231.90,228.26 233.09,228.73 234.27,227.02 235.46,226.46 236.64,226.83 237.83,226.34 239.01,226.61 240.19,226.61 241.38,227.31 242.56,227.58 243.75,227.96 244.93,228.73 246.12,229.00 247.30,228.83" fill="none" stroke="#ffff00" stroke-width="1.3" stroke-linejoin="round" stroke-linecap="butt"/>
<line x1="93.34" y1="208.30" x2="93.34" y2="272.20" stroke="#555" stroke-width="0.7" stroke-dasharray="1 1.5"/>
<line x1="81.50" y1="240.25" x2="247.30" y2="240.25" stroke="#555" stroke-width="0.7" stroke-dasharray="1 1.35"/>
<path d="M81.50 208.30V272.20H247.30" fill="none" stroke="#5c5c5c" stroke-width="0.9"/>
<line x1="93.34" y1="272.20" x2="93.34" y2="270.50" stroke="#5c5c5c" stroke-width="0.7"/>
<text x="93.34" y="282.70" class="tk" text-anchor="middle">0</text>
<line x1="117.03" y1="272.20" x2="117.03" y2="270.50" stroke="#5c5c5c" stroke-width="0.7"/>
<text x="117.03" y="282.70" class="tk" text-anchor="middle">200</text>
<line x1="140.71" y1="272.20" x2="140.71" y2="270.50" stroke="#5c5c5c" stroke-width="0.7"/>
<text x="140.71" y="282.70" class="tk" text-anchor="middle">400</text>
<line x1="164.40" y1="272.20" x2="164.40" y2="270.50" stroke="#5c5c5c" stroke-width="0.7"/>
<text x="164.40" y="282.70" class="tk" text-anchor="middle">600</text>
<line x1="188.09" y1="272.20" x2="188.09" y2="270.50" stroke="#5c5c5c" stroke-width="0.7"/>
<text x="188.09" y="282.70" class="tk" text-anchor="middle">800</text>
<line x1="211.77" y1="272.20" x2="211.77" y2="270.50" stroke="#5c5c5c" stroke-width="0.7"/>
<text x="211.77" y="282.70" class="tk" text-anchor="middle">1000</text>
<line x1="235.46" y1="272.20" x2="235.46" y2="270.50" stroke="#5c5c5c" stroke-width="0.7"/>
<text x="235.46" y="282.70" class="tk" text-anchor="middle">1200</text>
<line x1="81.50" y1="218.95" x2="83.20" y2="218.95" stroke="#5c5c5c" stroke-width="0.7"/>
<text x="78.30" y="222.55" class="tk" text-anchor="end">10</text>
<line x1="81.50" y1="240.25" x2="83.20" y2="240.25" stroke="#5c5c5c" stroke-width="0.7"/>
<text x="78.30" y="243.85" class="tk" text-anchor="end">0</text>
<line x1="81.50" y1="261.55" x2="83.20" y2="261.55" stroke="#5c5c5c" stroke-width="0.7"/>
<text x="78.30" y="265.15" class="tk" text-anchor="end">-10</text>
<text x="164.40" y="293.10" class="lb" text-anchor="middle">Time(ms)</text>
<text transform="translate(63.30 240.25) rotate(-90)" class="lb" text-anchor="middle">Amplitude(µV)</text>
<polyline points="299.70,242.55 300.88,241.72 302.07,241.87 303.25,241.33 304.44,240.94 305.62,241.04 306.81,240.38 307.99,240.78 309.17,240.87 310.36,240.60 311.54,240.19 312.73,239.66 313.91,238.59 315.10,239.24 316.28,239.12 317.46,240.07 318.65,240.49 319.83,240.27 321.02,239.76 322.20,240.28 323.39,239.62 324.57,240.44 325.75,240.57 326.94,246.18 328.12,249.99 329.31,252.43 330.49,253.53 331.68,252.90 332.86,251.55 334.04,250.43 335.23,251.08 336.41,251.61 337.60,253.32 338.78,253.88 339.97,255.19 341.15,256.87 342.33,258.12 343.52,259.44 344.70,259.88 345.89,260.97 347.07,259.97 348.26,259.59 349.44,259.27 350.62,259.59 351.81,260.16 352.99,261.51 354.18,262.66 355.36,263.17 356.55,263.19 357.73,261.70 358.91,260.92 360.10,260.18 361.28,259.41 362.47,259.98 363.65,260.11 364.84,261.51 366.02,262.23 367.20,261.84 368.39,261.29 369.57,259.60 370.76,259.03 371.94,258.26 373.13,256.90 374.31,256.47 375.49,255.81 376.68,255.86 377.86,255.17 379.05,254.02 380.23,253.47 381.42,253.33 382.60,252.11 383.78,251.91 384.97,251.48 386.15,251.49 387.34,250.69 388.52,250.04 389.71,249.51 390.89,248.11 392.07,247.04 393.26,246.58 394.44,246.10 395.63,246.64 396.81,246.72 398.00,245.97 399.18,245.88 400.36,244.93 401.55,245.03 402.73,245.46 403.92,244.71 405.10,243.50 406.29,243.18 407.47,242.85 408.65,242.16 409.84,240.66 411.02,240.08 412.21,239.48 413.39,238.97 414.58,238.40 415.76,237.88 416.94,236.95 418.13,236.78 419.31,236.23 420.50,236.49 421.68,235.71 422.87,235.52 424.05,235.60 425.23,235.32 426.42,235.35 427.60,234.67 428.79,233.57 429.97,233.55 431.16,233.05 432.34,232.64 433.52,232.88 434.71,232.96 435.89,234.31 437.08,233.09 438.26,233.23 439.45,232.15 440.63,231.52 441.81,230.58 443.00,230.20 444.18,230.04 445.37,229.54 446.55,230.12 447.74,230.54 448.92,230.51 450.10,231.42 451.29,231.75 452.47,232.03 453.66,231.98 454.84,231.79 456.03,232.36 457.21,232.57 458.39,232.98 459.58,232.49 460.76,232.47 461.95,232.31 463.13,232.48 464.32,232.36 465.50,233.02" fill="none" stroke="#00ffff" stroke-width="1.3" stroke-linejoin="round" stroke-linecap="butt"/>
<polyline points="299.70,242.92 300.88,241.75 302.07,241.15 303.25,240.29 304.44,239.92 305.62,240.19 306.81,240.17 307.99,240.43 309.17,240.76 310.36,240.36 311.54,239.90 312.73,239.65 313.91,239.70 315.10,239.18 316.28,240.32 317.46,240.26 318.65,239.84 319.83,239.51 321.02,239.47 322.20,239.67 323.39,239.94 324.57,241.12 325.75,242.18 326.94,246.48 328.12,250.50 329.31,253.17 330.49,253.94 331.68,253.30 332.86,252.23 334.04,250.38 335.23,251.61 336.41,252.40 337.60,254.31 338.78,255.91 339.97,257.32 341.15,258.29 342.33,259.09 343.52,259.69 344.70,260.92 345.89,261.01 347.07,259.82 348.26,259.44 349.44,258.85 350.62,257.83 351.81,259.86 352.99,261.40 354.18,262.61 355.36,264.01 356.55,263.79 357.73,262.77 358.91,260.78 360.10,259.54 361.28,258.28 362.47,258.14 363.65,259.30 364.84,261.70 366.02,262.89 367.20,262.64 368.39,262.33 369.57,261.46 370.76,259.36 371.94,259.08 373.13,258.05 374.31,256.99 375.49,256.65 376.68,256.37 377.86,254.96 379.05,253.79 380.23,252.68 381.42,252.23 382.60,251.19 383.78,251.58 384.97,250.99 386.15,250.97 387.34,249.43 388.52,247.83 389.71,247.14 390.89,246.90 392.07,246.44 393.26,245.67 394.44,244.56 395.63,244.30 396.81,244.29 398.00,243.63 399.18,243.19 400.36,241.89 401.55,241.81 402.73,241.02 403.92,240.74 405.10,241.30 406.29,241.34 407.47,240.85 408.65,240.11 409.84,239.14 411.02,238.95 412.21,238.12 413.39,237.65 414.58,237.83 415.76,236.79 416.94,237.64 418.13,237.59 419.31,236.94 420.50,236.43 421.68,236.90 422.87,237.66 424.05,237.29 425.23,236.73 426.42,235.98 427.60,234.52 428.79,234.01 429.97,233.80 431.16,233.51 432.34,232.67 433.52,233.02 434.71,233.66 435.89,234.29 437.08,233.17 438.26,231.72 439.45,230.68 440.63,230.40 441.81,230.09 443.00,230.46 444.18,230.74 445.37,231.69 446.55,231.09 447.74,231.22 448.92,230.37 450.10,230.43 451.29,230.12 452.47,229.85 453.66,229.21 454.84,228.93 456.03,228.18 457.21,228.85 458.39,229.15 459.58,230.75 460.76,233.28 461.95,234.01 463.13,233.64 464.32,233.28 465.50,232.73" fill="none" stroke="#ff00ff" stroke-width="1.3" stroke-linejoin="round" stroke-linecap="butt"/>
<polyline points="299.70,241.31 300.88,240.28 302.07,239.71 303.25,239.41 304.44,240.53 305.62,240.72 306.81,240.68 307.99,240.50 309.17,240.45 310.36,240.49 311.54,240.29 312.73,240.59 313.91,239.87 315.10,240.43 316.28,241.04 317.46,241.17 318.65,240.58 319.83,240.19 321.02,240.17 322.20,239.27 323.39,238.86 324.57,239.80 325.75,240.40 326.94,245.03 328.12,249.33 329.31,252.88 330.49,254.10 331.68,253.42 332.86,253.03 334.04,251.83 335.23,252.99 336.41,254.17 337.60,255.53 338.78,256.49 339.97,258.13 341.15,259.76 342.33,260.85 343.52,261.20 344.70,262.20 345.89,262.97 347.07,262.69 348.26,263.39 349.44,263.57 350.62,263.25 351.81,263.64 352.99,263.31 354.18,264.80 355.36,264.99 356.55,264.53 357.73,263.42 358.91,263.35 360.10,262.14 361.28,260.67 362.47,262.18 363.65,263.46 364.84,264.62 366.02,265.87 367.20,265.43 368.39,264.77 369.57,264.04 370.76,263.19 371.94,263.73 373.13,263.32 374.31,262.69 375.49,261.22 376.68,260.40 377.86,259.70 379.05,258.44 380.23,256.67 381.42,255.58 382.60,255.09 383.78,254.47 384.97,255.11 386.15,255.11 387.34,253.24 388.52,252.01 389.71,249.76 390.89,247.71 392.07,247.78 393.26,247.72 394.44,247.14 395.63,247.86 396.81,249.07 398.00,248.49 399.18,247.96 400.36,247.14 401.55,247.50 402.73,246.44 403.92,246.62 405.10,246.13 406.29,246.06 407.47,244.66 408.65,244.16 409.84,243.80 411.02,242.84 412.21,240.92 413.39,238.61 414.58,236.50 415.76,236.85 416.94,237.73 418.13,238.72 419.31,239.59 420.50,238.02 421.68,236.56 422.87,236.63 424.05,235.48 425.23,234.80 426.42,233.26 427.60,232.82 428.79,232.59 429.97,231.87 431.16,232.87 432.34,232.66 433.52,232.81 434.71,232.50 435.89,232.19 437.08,231.11 438.26,230.87 439.45,230.13 440.63,229.45 441.81,229.09 443.00,228.98 444.18,228.37 445.37,228.79 446.55,227.90 447.74,227.19 448.92,227.33 450.10,227.04 451.29,226.74 452.47,227.35 453.66,227.64 454.84,227.97 456.03,228.81 457.21,229.78 458.39,229.85 459.58,230.06 460.76,231.19 461.95,229.86 463.13,229.16 464.32,229.32 465.50,229.45" fill="none" stroke="#ffff00" stroke-width="1.3" stroke-linejoin="round" stroke-linecap="butt"/>
<line x1="311.54" y1="208.30" x2="311.54" y2="272.20" stroke="#555" stroke-width="0.7" stroke-dasharray="1 1.5"/>
<line x1="299.70" y1="240.25" x2="465.50" y2="240.25" stroke="#555" stroke-width="0.7" stroke-dasharray="1 1.35"/>
<path d="M299.70 208.30V272.20H465.50" fill="none" stroke="#5c5c5c" stroke-width="0.9"/>
<line x1="311.54" y1="272.20" x2="311.54" y2="270.50" stroke="#5c5c5c" stroke-width="0.7"/>
<text x="311.54" y="282.70" class="tk" text-anchor="middle">0</text>
<line x1="335.23" y1="272.20" x2="335.23" y2="270.50" stroke="#5c5c5c" stroke-width="0.7"/>
<text x="335.23" y="282.70" class="tk" text-anchor="middle">200</text>
<line x1="358.91" y1="272.20" x2="358.91" y2="270.50" stroke="#5c5c5c" stroke-width="0.7"/>
<text x="358.91" y="282.70" class="tk" text-anchor="middle">400</text>
<line x1="382.60" y1="272.20" x2="382.60" y2="270.50" stroke="#5c5c5c" stroke-width="0.7"/>
<text x="382.60" y="282.70" class="tk" text-anchor="middle">600</text>
<line x1="406.29" y1="272.20" x2="406.29" y2="270.50" stroke="#5c5c5c" stroke-width="0.7"/>
<text x="406.29" y="282.70" class="tk" text-anchor="middle">800</text>
<line x1="429.97" y1="272.20" x2="429.97" y2="270.50" stroke="#5c5c5c" stroke-width="0.7"/>
<text x="429.97" y="282.70" class="tk" text-anchor="middle">1000</text>
<line x1="453.66" y1="272.20" x2="453.66" y2="270.50" stroke="#5c5c5c" stroke-width="0.7"/>
<text x="453.66" y="282.70" class="tk" text-anchor="middle">1200</text>
<line x1="299.70" y1="218.95" x2="301.40" y2="218.95" stroke="#5c5c5c" stroke-width="0.7"/>
<text x="296.50" y="222.55" class="tk" text-anchor="end">10</text>
<line x1="299.70" y1="240.25" x2="301.40" y2="240.25" stroke="#5c5c5c" stroke-width="0.7"/>
<text x="296.50" y="243.85" class="tk" text-anchor="end">0</text>
<line x1="299.70" y1="261.55" x2="301.40" y2="261.55" stroke="#5c5c5c" stroke-width="0.7"/>
<text x="296.50" y="265.15" class="tk" text-anchor="end">-10</text>
<text x="382.60" y="293.10" class="lb" text-anchor="middle">Time(ms)</text>
<text transform="translate(281.50 240.25) rotate(-90)" class="lb" text-anchor="middle">Amplitude(µV)</text>
<polyline points="517.70,240.50 518.88,240.37 520.07,240.36 521.25,240.13 522.44,239.15 523.62,239.03 524.81,238.34 525.99,238.26 527.17,238.83 528.36,239.58 529.54,239.37 530.73,240.03 531.91,240.23 533.10,240.38 534.28,239.86 535.46,240.10 536.65,239.23 537.83,239.01 539.02,238.68 540.20,239.16 541.39,239.05 542.57,239.18 543.75,239.31 544.94,242.97 546.12,245.73 547.31,247.58 548.49,248.62 549.68,246.28 550.86,245.73 552.04,244.66 553.23,246.14 554.41,247.29 555.60,249.54 556.78,251.72 557.97,253.57 559.15,254.84 560.33,256.74 561.52,257.64 562.70,257.52 563.89,257.80 565.07,257.44 566.26,256.95 567.44,256.68 568.62,257.06 569.81,257.49 570.99,257.89 572.18,257.63 573.36,258.22 574.55,257.28 575.73,257.10 576.91,257.13 578.10,256.73 579.28,256.80 580.47,257.72 581.65,257.61 582.84,257.20 584.02,257.40 585.20,258.86 586.39,258.89 587.57,257.93 588.76,257.42 589.94,257.50 591.13,257.13 592.31,256.24 593.49,255.36 594.68,253.54 595.86,252.93 597.05,253.17 598.23,252.53 599.42,251.84 600.60,251.89 601.78,250.78 602.97,250.22 604.15,249.32 605.34,247.90 606.52,247.70 607.71,247.69 608.89,247.18 610.07,246.21 611.26,245.07 612.44,244.81 613.63,244.97 614.81,244.73 616.00,243.44 617.18,242.43 618.36,241.68 619.55,240.86 620.73,240.62 621.92,240.86 623.10,239.78 624.29,238.80 625.47,239.05 626.65,239.51 627.84,238.67 629.02,237.80 630.21,236.94 631.39,235.45 632.58,235.26 633.76,235.02 634.94,235.34 636.13,235.25 637.31,233.86 638.50,232.90 639.68,232.87 640.87,231.65 642.05,231.02 643.23,231.10 644.42,230.98 645.60,230.69 646.79,230.70 647.97,230.86 649.16,230.72 650.34,230.78 651.52,230.38 652.71,230.61 653.89,230.12 655.08,229.21 656.26,228.81 657.45,229.07 658.63,228.34 659.81,227.94 661.00,228.39 662.18,228.84 663.37,229.09 664.55,229.13 665.74,228.81 666.92,228.76 668.10,228.49 669.29,228.17 670.47,227.94 671.66,227.67 672.84,228.03 674.03,228.66 675.21,228.44 676.39,228.90 677.58,229.47 678.76,229.37 679.95,230.33 681.13,230.84 682.32,231.72 683.50,231.49" fill="none" stroke="#00ffff" stroke-width="1.3" stroke-linejoin="round" stroke-linecap="butt"/>
<polyline points="517.70,242.77 518.88,242.55 520.07,241.62 521.25,240.95 522.44,240.24 523.62,239.36 524.81,238.90 525.99,238.64 527.17,239.24 528.36,238.96 529.54,239.62 530.73,240.01 531.91,240.29 533.10,240.10 534.28,239.77 535.46,239.90 536.65,239.82 537.83,240.76 539.02,240.77 540.20,240.67 541.39,240.41 542.57,239.51 543.75,239.09 544.94,242.28 546.12,246.30 547.31,248.94 548.49,249.31 549.68,247.53 550.86,246.37 552.04,246.38 553.23,247.12 554.41,248.43 555.60,250.30 556.78,252.47 557.97,254.49 559.15,256.41 560.33,257.24 561.52,258.65 562.70,257.01 563.89,257.03 565.07,256.53 566.26,255.16 567.44,255.72 568.62,256.36 569.81,257.52 570.99,258.11 572.18,257.45 573.36,257.47 574.55,256.97 575.73,257.67 576.91,257.92 578.10,257.71 579.28,256.78 580.47,257.46 581.65,257.58 582.84,257.79 584.02,257.82 585.20,257.87 586.39,257.68 587.57,257.48 588.76,256.96 589.94,255.68 591.13,255.48 592.31,254.87 593.49,253.68 594.68,253.07 595.86,252.43 597.05,251.74 598.23,251.21 599.42,250.06 600.60,249.61 601.78,248.46 602.97,248.19 604.15,247.55 605.34,246.84 606.52,245.44 607.71,245.69 608.89,245.58 610.07,245.46 611.26,244.90 612.44,243.53 613.63,242.96 614.81,242.85 616.00,242.58 617.18,242.26 618.36,241.24 619.55,241.45 620.73,240.86 621.92,241.07 623.10,241.57 624.29,241.46 625.47,241.41 626.65,241.51 627.84,242.13 629.02,241.41 630.21,241.23 631.39,239.72 632.58,239.76 633.76,239.24 634.94,238.54 636.13,238.21 637.31,238.19 638.50,238.98 639.68,238.94 640.87,237.85 642.05,237.70 643.23,237.20 644.42,235.84 645.60,235.36 646.79,234.93 647.97,234.72 649.16,235.40 650.34,234.75 651.52,235.48 652.71,235.45 653.89,235.50 655.08,234.60 656.26,234.06 657.45,233.79 658.63,233.85 659.81,232.94 661.00,233.18 662.18,232.30 663.37,231.70 664.55,233.02 665.74,232.97 666.92,232.63 668.10,233.24 669.29,233.35 670.47,233.54 671.66,232.99 672.84,233.22 674.03,233.99 675.21,233.90 676.39,233.98 677.58,233.06 678.76,233.02 679.95,233.56 681.13,234.66 682.32,234.46 683.50,234.44" fill="none" stroke="#ff00ff" stroke-width="1.3" stroke-linejoin="round" stroke-linecap="butt"/>
<polyline points="517.70,241.54 518.88,241.11 520.07,240.29 521.25,240.34 522.44,240.19 523.62,239.89 524.81,240.10 525.99,239.67 527.17,239.44 528.36,239.40 529.54,240.34 530.73,240.66 531.91,241.19 533.10,240.33 534.28,239.65 535.46,239.85 536.65,239.28 537.83,239.19 539.02,239.32 540.20,239.06 541.39,239.26 542.57,240.52 543.75,240.93 544.94,245.04 546.12,248.21 547.31,250.73 548.49,251.47 549.68,249.51 550.86,248.38 552.04,247.41 553.23,248.89 554.41,250.15 555.60,252.35 556.78,254.28 557.97,256.02 559.15,257.87 560.33,257.66 561.52,257.84 562.70,257.37 563.89,257.04 565.07,257.79 566.26,258.34 567.44,259.04 568.62,259.96 569.81,259.68 570.99,260.22 572.18,259.46 573.36,259.52 574.55,258.71 575.73,258.82 576.91,259.99 578.10,261.00 579.28,261.06 580.47,261.04 581.65,260.31 582.84,260.57 584.02,262.19 585.20,262.83 586.39,262.27 587.57,262.51 588.76,262.72 589.94,262.34 591.13,261.26 592.31,260.87 593.49,260.76 594.68,260.11 595.86,259.67 597.05,259.14 598.23,257.65 599.42,256.88 600.60,255.46 601.78,254.29 602.97,253.43 604.15,251.75 605.34,251.20 606.52,249.78 607.71,249.40 608.89,248.41 610.07,247.76 611.26,246.94 612.44,245.28 613.63,244.62 614.81,244.65 616.00,243.71 617.18,244.00 618.36,243.74 619.55,243.08 620.73,242.96 621.92,243.48 623.10,242.19 624.29,242.25 625.47,242.25 626.65,241.53 627.84,241.61 629.02,240.96 630.21,240.48 631.39,239.79 632.58,239.05 633.76,239.01 634.94,238.66 636.13,238.77 637.31,237.83 638.50,236.31 639.68,235.71 640.87,235.00 642.05,233.94 643.23,234.40 644.42,234.52 645.60,233.57 646.79,233.03 647.97,233.29 649.16,233.83 650.34,233.53 651.52,233.27 652.71,233.42 653.89,232.31 655.08,231.78 656.26,231.69 657.45,231.67 658.63,231.48 659.81,231.07 661.00,229.69 662.18,229.71 663.37,228.94 664.55,229.10 665.74,228.38 666.92,228.42 668.10,228.80 669.29,229.11 670.47,228.81 671.66,229.58 672.84,229.84 674.03,229.67 675.21,229.36 676.39,229.73 677.58,230.46 678.76,230.37 679.95,231.45 681.13,232.42 682.32,232.65 683.50,232.71" fill="none" stroke="#ffff00" stroke-width="1.3" stroke-linejoin="round" stroke-linecap="butt"/>
<line x1="529.54" y1="208.30" x2="529.54" y2="272.20" stroke="#555" stroke-width="0.7" stroke-dasharray="1 1.5"/>
<line x1="517.70" y1="240.25" x2="683.50" y2="240.25" stroke="#555" stroke-width="0.7" stroke-dasharray="1 1.35"/>
<path d="M517.70 208.30V272.20H683.50" fill="none" stroke="#5c5c5c" stroke-width="0.9"/>
<line x1="529.54" y1="272.20" x2="529.54" y2="270.50" stroke="#5c5c5c" stroke-width="0.7"/>
<text x="529.54" y="282.70" class="tk" text-anchor="middle">0</text>
<line x1="553.23" y1="272.20" x2="553.23" y2="270.50" stroke="#5c5c5c" stroke-width="0.7"/>
<text x="553.23" y="282.70" class="tk" text-anchor="middle">200</text>
<line x1="576.91" y1="272.20" x2="576.91" y2="270.50" stroke="#5c5c5c" stroke-width="0.7"/>
<text x="576.91" y="282.70" class="tk" text-anchor="middle">400</text>
<line x1="600.60" y1="272.20" x2="600.60" y2="270.50" stroke="#5c5c5c" stroke-width="0.7"/>
<text x="600.60" y="282.70" class="tk" text-anchor="middle">600</text>
<line x1="624.29" y1="272.20" x2="624.29" y2="270.50" stroke="#5c5c5c" stroke-width="0.7"/>
<text x="624.29" y="282.70" class="tk" text-anchor="middle">800</text>
<line x1="647.97" y1="272.20" x2="647.97" y2="270.50" stroke="#5c5c5c" stroke-width="0.7"/>
<text x="647.97" y="282.70" class="tk" text-anchor="middle">1000</text>
<line x1="671.66" y1="272.20" x2="671.66" y2="270.50" stroke="#5c5c5c" stroke-width="0.7"/>
<text x="671.66" y="282.70" class="tk" text-anchor="middle">1200</text>
<line x1="517.70" y1="218.95" x2="519.40" y2="218.95" stroke="#5c5c5c" stroke-width="0.7"/>
<text x="514.50" y="222.55" class="tk" text-anchor="end">10</text>
<line x1="517.70" y1="240.25" x2="519.40" y2="240.25" stroke="#5c5c5c" stroke-width="0.7"/>
<text x="514.50" y="243.85" class="tk" text-anchor="end">0</text>
<line x1="517.70" y1="261.55" x2="519.40" y2="261.55" stroke="#5c5c5c" stroke-width="0.7"/>
<text x="514.50" y="265.15" class="tk" text-anchor="end">-10</text>
<text x="600.60" y="293.10" class="lb" text-anchor="middle">Time(ms)</text>
<text transform="translate(499.50 240.25) rotate(-90)" class="lb" text-anchor="middle">Amplitude(µV)</text>
<text x="24.2" y="235.7" class="rl" text-anchor="middle">LPP</text>
<text x="23.9" y="248.6" class="rl" text-anchor="middle">anterior</text>
<line x1="387.6" y1="299.3" x2="387.6" y2="301.6" stroke="#bbb" stroke-width="0.7"/>
<line x1="399.7" y1="299.3" x2="399.7" y2="301.6" stroke="#bbb" stroke-width="0.7"/>
<rect x="292.6" y="301.7" width="178.6" height="15.3" fill="#fff" stroke="#5a5a5a" stroke-width="0.8"/>
<line x1="294.9" y1="309.3" x2="314.6" y2="309.3" stroke="#00ffff" stroke-width="1.2"/>
<text x="316.7" y="312.5" class="lg">Positive</text>
<line x1="353.6" y1="309.3" x2="373" y2="309.3" stroke="#ff00ff" stroke-width="1.2"/>
<text x="374.9" y="312.5" class="lg">Neutral</text>
<line x1="409.2" y1="309.3" x2="428.2" y2="309.3" stroke="#ffff00" stroke-width="1.2"/>
<text x="430.6" y="312.5" class="lg">Negative</text>
</svg>
</body></html>
